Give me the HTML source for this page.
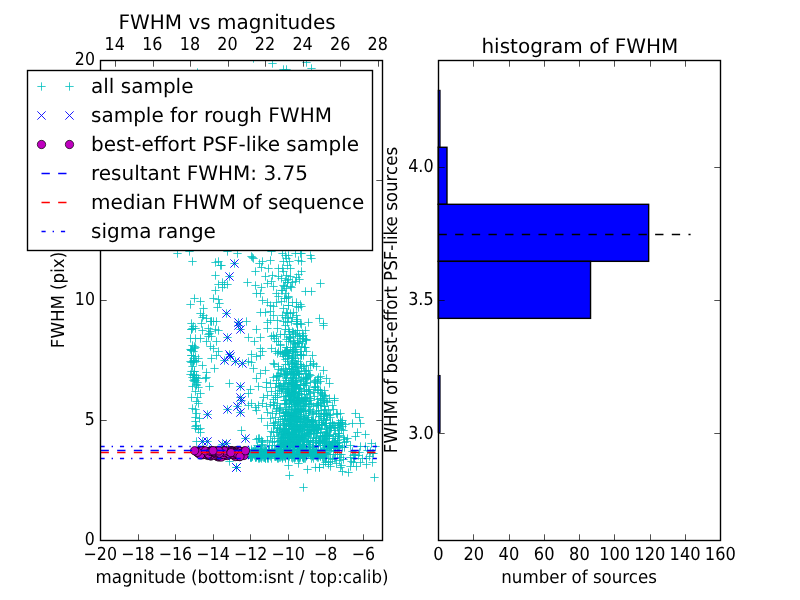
<!DOCTYPE html>
<html><head><meta charset="utf-8"><title>FWHM</title>
<style>html,body{margin:0;padding:0;background:#fff;overflow:hidden}svg{display:block;will-change:transform;opacity:.9999}text{text-rendering:geometricPrecision}text{font-family:"DejaVu Sans","Liberation Sans",sans-serif;fill:#000}</style>
</head><body>
<svg width="800" height="600" viewBox="0 0 800 600">
<rect width="800" height="600" fill="#fff"/>
<clipPath id="c1"><rect x="100.5" y="60.5" width="281" height="480"/></clipPath>
<g clip-path="url(#c1)">
<g fill="none" stroke="#00BFBF" stroke-width="0.8">
<path d="M192.5 257.33v8.33 m-4.17 -4.17h8.33"/>
<path d="M189.5 247.33v8.33 m-4.17 -4.17h8.33"/>
<path d="M227.5 247.33v8.33 m-4.17 -4.17h8.33"/>
<path d="M237.5 249.33v8.33 m-4.17 -4.17h8.33"/>
<path d="M251.5 252.33v8.33 m-4.17 -4.17h8.33"/>
<path d="M253.5 254.33v8.33 m-4.17 -4.17h8.33"/>
<path d="M252.5 253.33v8.33 m-4.17 -4.17h8.33"/>
<path d="M271.5 247.33v8.33 m-4.17 -4.17h8.33"/>
<path d="M215.5 258.33v8.33 m-4.17 -4.17h8.33"/>
<path d="M218.5 257.33v8.33 m-4.17 -4.17h8.33"/>
<path d="M221.5 261.33v8.33 m-4.17 -4.17h8.33"/>
<path d="M220.5 261.33v8.33 m-4.17 -4.17h8.33"/>
<path d="M215.5 271.33v8.33 m-4.17 -4.17h8.33"/>
<path d="M247.5 278.33v8.33 m-4.17 -4.17h8.33"/>
<path d="M218.5 280.33v8.33 m-4.17 -4.17h8.33"/>
<path d="M222.5 278.33v8.33 m-4.17 -4.17h8.33"/>
<path d="M227.5 280.33v8.33 m-4.17 -4.17h8.33"/>
<path d="M222.5 283.33v8.33 m-4.17 -4.17h8.33"/>
<path d="M224.5 280.33v8.33 m-4.17 -4.17h8.33"/>
<path d="M215.5 286.33v8.33 m-4.17 -4.17h8.33"/>
<path d="M255.5 281.33v8.33 m-4.17 -4.17h8.33"/>
<path d="M261.5 283.33v8.33 m-4.17 -4.17h8.33"/>
<path d="M256.5 289.33v8.33 m-4.17 -4.17h8.33"/>
<path d="M260.5 289.33v8.33 m-4.17 -4.17h8.33"/>
<path d="M255.5 267.33v8.33 m-4.17 -4.17h8.33"/>
<path d="M259.5 259.33v8.33 m-4.17 -4.17h8.33"/>
<path d="M262.5 257.33v8.33 m-4.17 -4.17h8.33"/>
<path d="M261.5 263.33v8.33 m-4.17 -4.17h8.33"/>
<path d="M270.5 256.33v8.33 m-4.17 -4.17h8.33"/>
<path d="M268.5 264.33v8.33 m-4.17 -4.17h8.33"/>
<path d="M265.5 272.33v8.33 m-4.17 -4.17h8.33"/>
<path d="M272.5 271.33v8.33 m-4.17 -4.17h8.33"/>
<path d="M278.5 272.33v8.33 m-4.17 -4.17h8.33"/>
<path d="M267.5 279.33v8.33 m-4.17 -4.17h8.33"/>
<path d="M271.5 277.33v8.33 m-4.17 -4.17h8.33"/>
<path d="M273.5 282.33v8.33 m-4.17 -4.17h8.33"/>
<path d="M278.5 264.33v8.33 m-4.17 -4.17h8.33"/>
<path d="M194.5 294.33v8.33 m-4.17 -4.17h8.33"/>
<path d="M200.5 297.33v8.33 m-4.17 -4.17h8.33"/>
<path d="M190.5 300.33v8.33 m-4.17 -4.17h8.33"/>
<path d="M213.5 294.33v8.33 m-4.17 -4.17h8.33"/>
<path d="M218.5 295.33v8.33 m-4.17 -4.17h8.33"/>
<path d="M219.5 299.33v8.33 m-4.17 -4.17h8.33"/>
<path d="M217.5 303.33v8.33 m-4.17 -4.17h8.33"/>
<path d="M203.5 304.33v8.33 m-4.17 -4.17h8.33"/>
<path d="M200.5 309.33v8.33 m-4.17 -4.17h8.33"/>
<path d="M203.5 311.33v8.33 m-4.17 -4.17h8.33"/>
<path d="M202.5 313.33v8.33 m-4.17 -4.17h8.33"/>
<path d="M206.5 314.33v8.33 m-4.17 -4.17h8.33"/>
<path d="M210.5 317.33v8.33 m-4.17 -4.17h8.33"/>
<path d="M213.5 317.33v8.33 m-4.17 -4.17h8.33"/>
<path d="M216.5 317.33v8.33 m-4.17 -4.17h8.33"/>
<path d="M191.5 319.33v8.33 m-4.17 -4.17h8.33"/>
<path d="M201.5 319.33v8.33 m-4.17 -4.17h8.33"/>
<path d="M246.5 317.33v8.33 m-4.17 -4.17h8.33"/>
<path d="M262.5 296.33v8.33 m-4.17 -4.17h8.33"/>
<path d="M267.5 298.33v8.33 m-4.17 -4.17h8.33"/>
<path d="M270.5 301.33v8.33 m-4.17 -4.17h8.33"/>
<path d="M273.5 302.33v8.33 m-4.17 -4.17h8.33"/>
<path d="M276.5 289.33v8.33 m-4.17 -4.17h8.33"/>
<path d="M278.5 292.33v8.33 m-4.17 -4.17h8.33"/>
<path d="M276.5 298.33v8.33 m-4.17 -4.17h8.33"/>
<path d="M260.5 308.33v8.33 m-4.17 -4.17h8.33"/>
<path d="M265.5 308.33v8.33 m-4.17 -4.17h8.33"/>
<path d="M270.5 307.33v8.33 m-4.17 -4.17h8.33"/>
<path d="M273.5 311.33v8.33 m-4.17 -4.17h8.33"/>
<path d="M270.5 316.33v8.33 m-4.17 -4.17h8.33"/>
<path d="M267.5 318.33v8.33 m-4.17 -4.17h8.33"/>
<path d="M277.5 316.33v8.33 m-4.17 -4.17h8.33"/>
<path d="M282.5 249.33v8.33 m-4.17 -4.17h8.33"/>
<path d="M285.5 251.33v8.33 m-4.17 -4.17h8.33"/>
<path d="M288.5 251.33v8.33 m-4.17 -4.17h8.33"/>
<path d="M286.5 254.33v8.33 m-4.17 -4.17h8.33"/>
<path d="M289.5 257.33v8.33 m-4.17 -4.17h8.33"/>
<path d="M283.5 257.33v8.33 m-4.17 -4.17h8.33"/>
<path d="M287.5 261.33v8.33 m-4.17 -4.17h8.33"/>
<path d="M282.5 264.33v8.33 m-4.17 -4.17h8.33"/>
<path d="M283.5 267.33v8.33 m-4.17 -4.17h8.33"/>
<path d="M286.5 271.33v8.33 m-4.17 -4.17h8.33"/>
<path d="M281.5 274.33v8.33 m-4.17 -4.17h8.33"/>
<path d="M285.5 276.33v8.33 m-4.17 -4.17h8.33"/>
<path d="M288.5 275.33v8.33 m-4.17 -4.17h8.33"/>
<path d="M287.5 278.33v8.33 m-4.17 -4.17h8.33"/>
<path d="M283.5 281.33v8.33 m-4.17 -4.17h8.33"/>
<path d="M290.5 282.33v8.33 m-4.17 -4.17h8.33"/>
<path d="M286.5 284.33v8.33 m-4.17 -4.17h8.33"/>
<path d="M282.5 286.33v8.33 m-4.17 -4.17h8.33"/>
<path d="M285.5 289.33v8.33 m-4.17 -4.17h8.33"/>
<path d="M288.5 293.33v8.33 m-4.17 -4.17h8.33"/>
<path d="M286.5 294.33v8.33 m-4.17 -4.17h8.33"/>
<path d="M281.5 297.33v8.33 m-4.17 -4.17h8.33"/>
<path d="M288.5 301.33v8.33 m-4.17 -4.17h8.33"/>
<path d="M283.5 304.33v8.33 m-4.17 -4.17h8.33"/>
<path d="M286.5 308.33v8.33 m-4.17 -4.17h8.33"/>
<path d="M290.5 309.33v8.33 m-4.17 -4.17h8.33"/>
<path d="M282.5 311.33v8.33 m-4.17 -4.17h8.33"/>
<path d="M293.5 308.33v8.33 m-4.17 -4.17h8.33"/>
<path d="M285.5 313.33v8.33 m-4.17 -4.17h8.33"/>
<path d="M288.5 314.33v8.33 m-4.17 -4.17h8.33"/>
<path d="M292.5 313.33v8.33 m-4.17 -4.17h8.33"/>
<path d="M296.5 311.33v8.33 m-4.17 -4.17h8.33"/>
<path d="M283.5 317.33v8.33 m-4.17 -4.17h8.33"/>
<path d="M287.5 318.33v8.33 m-4.17 -4.17h8.33"/>
<path d="M291.5 317.33v8.33 m-4.17 -4.17h8.33"/>
<path d="M296.5 317.33v8.33 m-4.17 -4.17h8.33"/>
<path d="M300.5 319.33v8.33 m-4.17 -4.17h8.33"/>
<path d="M298.5 256.33v8.33 m-4.17 -4.17h8.33"/>
<path d="M301.5 249.33v8.33 m-4.17 -4.17h8.33"/>
<path d="M300.5 249.33v8.33 m-4.17 -4.17h8.33"/>
<path d="M310.5 251.33v8.33 m-4.17 -4.17h8.33"/>
<path d="M311.5 254.33v8.33 m-4.17 -4.17h8.33"/>
<path d="M301.5 267.33v8.33 m-4.17 -4.17h8.33"/>
<path d="M298.5 270.33v8.33 m-4.17 -4.17h8.33"/>
<path d="M299.5 275.33v8.33 m-4.17 -4.17h8.33"/>
<path d="M295.5 277.33v8.33 m-4.17 -4.17h8.33"/>
<path d="M292.5 278.33v8.33 m-4.17 -4.17h8.33"/>
<path d="M296.5 273.33v8.33 m-4.17 -4.17h8.33"/>
<path d="M320.5 279.33v8.33 m-4.17 -4.17h8.33"/>
<path d="M305.5 287.33v8.33 m-4.17 -4.17h8.33"/>
<path d="M311.5 287.33v8.33 m-4.17 -4.17h8.33"/>
<path d="M300.5 300.33v8.33 m-4.17 -4.17h8.33"/>
<path d="M298.5 303.33v8.33 m-4.17 -4.17h8.33"/>
<path d="M291.5 283.33v8.33 m-4.17 -4.17h8.33"/>
<path d="M319.5 314.33v8.33 m-4.17 -4.17h8.33"/>
<path d="M323.5 319.33v8.33 m-4.17 -4.17h8.33"/>
<path d="M192.5 324.33v8.33 m-4.17 -4.17h8.33"/>
<path d="M195.5 324.33v8.33 m-4.17 -4.17h8.33"/>
<path d="M202.5 326.33v8.33 m-4.17 -4.17h8.33"/>
<path d="M208.5 324.33v8.33 m-4.17 -4.17h8.33"/>
<path d="M210.5 327.33v8.33 m-4.17 -4.17h8.33"/>
<path d="M215.5 325.33v8.33 m-4.17 -4.17h8.33"/>
<path d="M218.5 326.33v8.33 m-4.17 -4.17h8.33"/>
<path d="M190.5 334.33v8.33 m-4.17 -4.17h8.33"/>
<path d="M195.5 334.33v8.33 m-4.17 -4.17h8.33"/>
<path d="M200.5 334.33v8.33 m-4.17 -4.17h8.33"/>
<path d="M208.5 332.33v8.33 m-4.17 -4.17h8.33"/>
<path d="M211.5 332.33v8.33 m-4.17 -4.17h8.33"/>
<path d="M206.5 337.33v8.33 m-4.17 -4.17h8.33"/>
<path d="M210.5 342.33v8.33 m-4.17 -4.17h8.33"/>
<path d="M216.5 337.33v8.33 m-4.17 -4.17h8.33"/>
<path d="M213.5 344.33v8.33 m-4.17 -4.17h8.33"/>
<path d="M218.5 347.33v8.33 m-4.17 -4.17h8.33"/>
<path d="M192.5 341.33v8.33 m-4.17 -4.17h8.33"/>
<path d="M190.5 345.33v8.33 m-4.17 -4.17h8.33"/>
<path d="M193.5 347.33v8.33 m-4.17 -4.17h8.33"/>
<path d="M191.5 351.33v8.33 m-4.17 -4.17h8.33"/>
<path d="M195.5 352.33v8.33 m-4.17 -4.17h8.33"/>
<path d="M198.5 354.33v8.33 m-4.17 -4.17h8.33"/>
<path d="M190.5 357.33v8.33 m-4.17 -4.17h8.33"/>
<path d="M193.5 358.33v8.33 m-4.17 -4.17h8.33"/>
<path d="M196.5 357.33v8.33 m-4.17 -4.17h8.33"/>
<path d="M192.5 362.33v8.33 m-4.17 -4.17h8.33"/>
<path d="M202.5 361.33v8.33 m-4.17 -4.17h8.33"/>
<path d="M211.5 354.33v8.33 m-4.17 -4.17h8.33"/>
<path d="M216.5 351.33v8.33 m-4.17 -4.17h8.33"/>
<path d="M214.5 364.33v8.33 m-4.17 -4.17h8.33"/>
<path d="M206.5 368.33v8.33 m-4.17 -4.17h8.33"/>
<path d="M229.5 379.33v8.33 m-4.17 -4.17h8.33"/>
<path d="M192.5 373.33v8.33 m-4.17 -4.17h8.33"/>
<path d="M196.5 371.33v8.33 m-4.17 -4.17h8.33"/>
<path d="M195.5 376.33v8.33 m-4.17 -4.17h8.33"/>
<path d="M198.5 374.33v8.33 m-4.17 -4.17h8.33"/>
<path d="M205.5 374.33v8.33 m-4.17 -4.17h8.33"/>
<path d="M206.5 373.33v8.33 m-4.17 -4.17h8.33"/>
<path d="M192.5 382.33v8.33 m-4.17 -4.17h8.33"/>
<path d="M196.5 381.33v8.33 m-4.17 -4.17h8.33"/>
<path d="M198.5 383.33v8.33 m-4.17 -4.17h8.33"/>
<path d="M209.5 382.33v8.33 m-4.17 -4.17h8.33"/>
<path d="M195.5 387.33v8.33 m-4.17 -4.17h8.33"/>
<path d="M200.5 389.33v8.33 m-4.17 -4.17h8.33"/>
<path d="M197.5 393.33v8.33 m-4.17 -4.17h8.33"/>
<path d="M256.5 325.33v8.33 m-4.17 -4.17h8.33"/>
<path d="M248.5 333.33v8.33 m-4.17 -4.17h8.33"/>
<path d="M260.5 333.33v8.33 m-4.17 -4.17h8.33"/>
<path d="M254.5 337.33v8.33 m-4.17 -4.17h8.33"/>
<path d="M267.5 324.33v8.33 m-4.17 -4.17h8.33"/>
<path d="M271.5 332.33v8.33 m-4.17 -4.17h8.33"/>
<path d="M274.5 334.33v8.33 m-4.17 -4.17h8.33"/>
<path d="M276.5 332.33v8.33 m-4.17 -4.17h8.33"/>
<path d="M273.5 331.33v8.33 m-4.17 -4.17h8.33"/>
<path d="M278.5 337.33v8.33 m-4.17 -4.17h8.33"/>
<path d="M260.5 344.33v8.33 m-4.17 -4.17h8.33"/>
<path d="M271.5 344.33v8.33 m-4.17 -4.17h8.33"/>
<path d="M262.5 347.33v8.33 m-4.17 -4.17h8.33"/>
<path d="M251.5 350.33v8.33 m-4.17 -4.17h8.33"/>
<path d="M260.5 351.33v8.33 m-4.17 -4.17h8.33"/>
<path d="M256.5 352.33v8.33 m-4.17 -4.17h8.33"/>
<path d="M278.5 347.33v8.33 m-4.17 -4.17h8.33"/>
<path d="M248.5 357.33v8.33 m-4.17 -4.17h8.33"/>
<path d="M251.5 358.33v8.33 m-4.17 -4.17h8.33"/>
<path d="M253.5 364.33v8.33 m-4.17 -4.17h8.33"/>
<path d="M265.5 366.33v8.33 m-4.17 -4.17h8.33"/>
<path d="M273.5 359.33v8.33 m-4.17 -4.17h8.33"/>
<path d="M278.5 362.33v8.33 m-4.17 -4.17h8.33"/>
<path d="M260.5 369.33v8.33 m-4.17 -4.17h8.33"/>
<path d="M256.5 374.33v8.33 m-4.17 -4.17h8.33"/>
<path d="M266.5 378.33v8.33 m-4.17 -4.17h8.33"/>
<path d="M258.5 382.33v8.33 m-4.17 -4.17h8.33"/>
<path d="M250.5 385.33v8.33 m-4.17 -4.17h8.33"/>
<path d="M248.5 389.33v8.33 m-4.17 -4.17h8.33"/>
<path d="M266.5 383.33v8.33 m-4.17 -4.17h8.33"/>
<path d="M270.5 379.33v8.33 m-4.17 -4.17h8.33"/>
<path d="M273.5 373.33v8.33 m-4.17 -4.17h8.33"/>
<path d="M277.5 371.33v8.33 m-4.17 -4.17h8.33"/>
<path d="M276.5 376.33v8.33 m-4.17 -4.17h8.33"/>
<path d="M278.5 379.33v8.33 m-4.17 -4.17h8.33"/>
<path d="M275.5 383.33v8.33 m-4.17 -4.17h8.33"/>
<path d="M271.5 387.33v8.33 m-4.17 -4.17h8.33"/>
<path d="M267.5 391.33v8.33 m-4.17 -4.17h8.33"/>
<path d="M277.5 389.33v8.33 m-4.17 -4.17h8.33"/>
<path d="M263.5 393.33v8.33 m-4.17 -4.17h8.33"/>
<path d="M275.5 393.33v8.33 m-4.17 -4.17h8.33"/>
<path d="M323.5 321.33v8.33 m-4.17 -4.17h8.33"/>
<path d="M306.5 335.33v8.33 m-4.17 -4.17h8.33"/>
<path d="M312.5 351.33v8.33 m-4.17 -4.17h8.33"/>
<path d="M310.5 361.33v8.33 m-4.17 -4.17h8.33"/>
<path d="M313.5 360.33v8.33 m-4.17 -4.17h8.33"/>
<path d="M316.5 362.33v8.33 m-4.17 -4.17h8.33"/>
<path d="M323.5 366.33v8.33 m-4.17 -4.17h8.33"/>
<path d="M326.5 374.33v8.33 m-4.17 -4.17h8.33"/>
<path d="M329.5 379.33v8.33 m-4.17 -4.17h8.33"/>
<path d="M329.5 394.33v8.33 m-4.17 -4.17h8.33"/>
<path d="M334.5 394.33v8.33 m-4.17 -4.17h8.33"/>
<path d="M317.5 386.33v8.33 m-4.17 -4.17h8.33"/>
<path d="M320.5 388.33v8.33 m-4.17 -4.17h8.33"/>
<path d="M315.5 376.33v8.33 m-4.17 -4.17h8.33"/>
<path d="M310.5 371.33v8.33 m-4.17 -4.17h8.33"/>
<path d="M306.5 347.33v8.33 m-4.17 -4.17h8.33"/>
<path d="M196.5 397.33v8.33 m-4.17 -4.17h8.33"/>
<path d="M198.5 399.33v8.33 m-4.17 -4.17h8.33"/>
<path d="M192.5 404.33v8.33 m-4.17 -4.17h8.33"/>
<path d="M195.5 405.33v8.33 m-4.17 -4.17h8.33"/>
<path d="M199.5 414.33v8.33 m-4.17 -4.17h8.33"/>
<path d="M195.5 417.33v8.33 m-4.17 -4.17h8.33"/>
<path d="M196.5 421.33v8.33 m-4.17 -4.17h8.33"/>
<path d="M198.5 425.33v8.33 m-4.17 -4.17h8.33"/>
<path d="M200.5 428.33v8.33 m-4.17 -4.17h8.33"/>
<path d="M196.5 437.33v8.33 m-4.17 -4.17h8.33"/>
<path d="M241.5 426.33v8.33 m-4.17 -4.17h8.33"/>
<path d="M229.5 457.33v8.33 m-4.17 -4.17h8.33"/>
<path d="M248.5 401.33v8.33 m-4.17 -4.17h8.33"/>
<path d="M251.5 399.33v8.33 m-4.17 -4.17h8.33"/>
<path d="M255.5 403.33v8.33 m-4.17 -4.17h8.33"/>
<path d="M258.5 401.33v8.33 m-4.17 -4.17h8.33"/>
<path d="M262.5 399.33v8.33 m-4.17 -4.17h8.33"/>
<path d="M266.5 402.33v8.33 m-4.17 -4.17h8.33"/>
<path d="M270.5 400.33v8.33 m-4.17 -4.17h8.33"/>
<path d="M273.5 401.33v8.33 m-4.17 -4.17h8.33"/>
<path d="M277.5 399.33v8.33 m-4.17 -4.17h8.33"/>
<path d="M256.5 406.33v8.33 m-4.17 -4.17h8.33"/>
<path d="M267.5 408.33v8.33 m-4.17 -4.17h8.33"/>
<path d="M272.5 409.33v8.33 m-4.17 -4.17h8.33"/>
<path d="M276.5 407.33v8.33 m-4.17 -4.17h8.33"/>
<path d="M261.5 414.33v8.33 m-4.17 -4.17h8.33"/>
<path d="M270.5 414.33v8.33 m-4.17 -4.17h8.33"/>
<path d="M275.5 413.33v8.33 m-4.17 -4.17h8.33"/>
<path d="M278.5 417.33v8.33 m-4.17 -4.17h8.33"/>
<path d="M267.5 421.33v8.33 m-4.17 -4.17h8.33"/>
<path d="M273.5 421.33v8.33 m-4.17 -4.17h8.33"/>
<path d="M277.5 423.33v8.33 m-4.17 -4.17h8.33"/>
<path d="M271.5 427.33v8.33 m-4.17 -4.17h8.33"/>
<path d="M276.5 428.33v8.33 m-4.17 -4.17h8.33"/>
<path d="M270.5 432.33v8.33 m-4.17 -4.17h8.33"/>
<path d="M278.5 432.33v8.33 m-4.17 -4.17h8.33"/>
<path d="M262.5 437.33v8.33 m-4.17 -4.17h8.33"/>
<path d="M267.5 436.33v8.33 m-4.17 -4.17h8.33"/>
<path d="M272.5 437.33v8.33 m-4.17 -4.17h8.33"/>
<path d="M277.5 437.33v8.33 m-4.17 -4.17h8.33"/>
<path d="M257.5 441.33v8.33 m-4.17 -4.17h8.33"/>
<path d="M261.5 441.33v8.33 m-4.17 -4.17h8.33"/>
<path d="M326.5 397.33v8.33 m-4.17 -4.17h8.33"/>
<path d="M334.5 396.33v8.33 m-4.17 -4.17h8.33"/>
<path d="M355.5 409.33v8.33 m-4.17 -4.17h8.33"/>
<path d="M359.5 413.33v8.33 m-4.17 -4.17h8.33"/>
<path d="M352.5 419.33v8.33 m-4.17 -4.17h8.33"/>
<path d="M360.5 419.33v8.33 m-4.17 -4.17h8.33"/>
<path d="M340.5 409.33v8.33 m-4.17 -4.17h8.33"/>
<path d="M343.5 426.33v8.33 m-4.17 -4.17h8.33"/>
<path d="M357.5 428.33v8.33 m-4.17 -4.17h8.33"/>
<path d="M355.5 432.33v8.33 m-4.17 -4.17h8.33"/>
<path d="M365.5 430.33v8.33 m-4.17 -4.17h8.33"/>
<path d="M347.5 434.33v8.33 m-4.17 -4.17h8.33"/>
<path d="M350.5 441.33v8.33 m-4.17 -4.17h8.33"/>
<path d="M360.5 442.33v8.33 m-4.17 -4.17h8.33"/>
<path d="M371.5 439.33v8.33 m-4.17 -4.17h8.33"/>
<path d="M375.5 442.33v8.33 m-4.17 -4.17h8.33"/>
<path d="M367.5 446.33v8.33 m-4.17 -4.17h8.33"/>
<path d="M372.5 449.33v8.33 m-4.17 -4.17h8.33"/>
<path d="M355.5 451.33v8.33 m-4.17 -4.17h8.33"/>
<path d="M288.5 461.33v8.33 m-4.17 -4.17h8.33"/>
<path d="M289.5 471.33v8.33 m-4.17 -4.17h8.33"/>
<path d="M303.5 483.33v8.33 m-4.17 -4.17h8.33"/>
<path d="M374.5 473.33v8.33 m-4.17 -4.17h8.33"/>
<path d="M307.5 465.33v8.33 m-4.17 -4.17h8.33"/>
<path d="M315.5 463.33v8.33 m-4.17 -4.17h8.33"/>
<path d="M319.5 463.33v8.33 m-4.17 -4.17h8.33"/>
<path d="M330.5 462.33v8.33 m-4.17 -4.17h8.33"/>
<path d="M342.5 467.33v8.33 m-4.17 -4.17h8.33"/>
<path d="M348.5 468.33v8.33 m-4.17 -4.17h8.33"/>
<path d="M340.5 463.33v8.33 m-4.17 -4.17h8.33"/>
<path d="M350.5 462.33v8.33 m-4.17 -4.17h8.33"/>
<path d="M356.5 462.33v8.33 m-4.17 -4.17h8.33"/>
<path d="M366.5 460.33v8.33 m-4.17 -4.17h8.33"/>
<path d="M372.5 458.33v8.33 m-4.17 -4.17h8.33"/>
<path d="M360.5 458.33v8.33 m-4.17 -4.17h8.33"/>
<path d="M336.5 459.33v8.33 m-4.17 -4.17h8.33"/>
<path d="M323.5 460.33v8.33 m-4.17 -4.17h8.33"/>
<path d="M298.5 459.33v8.33 m-4.17 -4.17h8.33"/>
<path d="M177.5 249.33v8.33 m-4.17 -4.17h8.33"/>
<path d="M197.5 68.33v8.33 m-4.17 -4.17h8.33"/>
<path d="M253.5 54.33v8.33 m-4.17 -4.17h8.33"/>
<path d="M272.5 59.33v8.33 m-4.17 -4.17h8.33"/>
<path d="M286.5 65.33v8.33 m-4.17 -4.17h8.33"/>
<path d="M283.5 65.33v8.33 m-4.17 -4.17h8.33"/>
<path d="M306.5 58.33v8.33 m-4.17 -4.17h8.33"/>
<path d="M311.5 64.33v8.33 m-4.17 -4.17h8.33"/>
<path d="M234.5 259.33v8.33 m-4.17 -4.17h8.33"/>
<path d="M229.5 272.33v8.33 m-4.17 -4.17h8.33"/>
<path d="M226.5 309.33v8.33 m-4.17 -4.17h8.33"/>
<path d="M238.5 318.33v8.33 m-4.17 -4.17h8.33"/>
<path d="M238.5 321.33v8.33 m-4.17 -4.17h8.33"/>
<path d="M240.5 325.33v8.33 m-4.17 -4.17h8.33"/>
<path d="M227.5 333.33v8.33 m-4.17 -4.17h8.33"/>
<path d="M229.5 350.33v8.33 m-4.17 -4.17h8.33"/>
<path d="M230.5 352.33v8.33 m-4.17 -4.17h8.33"/>
<path d="M224.5 356.33v8.33 m-4.17 -4.17h8.33"/>
<path d="M235.5 357.33v8.33 m-4.17 -4.17h8.33"/>
<path d="M242.5 359.33v8.33 m-4.17 -4.17h8.33"/>
<path d="M240.5 382.33v8.33 m-4.17 -4.17h8.33"/>
<path d="M240.5 393.33v8.33 m-4.17 -4.17h8.33"/>
<path d="M207.5 410.33v8.33 m-4.17 -4.17h8.33"/>
<path d="M227.5 405.33v8.33 m-4.17 -4.17h8.33"/>
<path d="M237.5 402.33v8.33 m-4.17 -4.17h8.33"/>
<path d="M240.5 408.33v8.33 m-4.17 -4.17h8.33"/>
<path d="M241.5 396.33v8.33 m-4.17 -4.17h8.33"/>
<path d="M245.5 434.33v8.33 m-4.17 -4.17h8.33"/>
<path d="M202.5 437.33v8.33 m-4.17 -4.17h8.33"/>
<path d="M207.5 437.33v8.33 m-4.17 -4.17h8.33"/>
<path d="M226.5 439.33v8.33 m-4.17 -4.17h8.33"/>
<path d="M222.5 440.33v8.33 m-4.17 -4.17h8.33"/>
<path d="M236.5 463.33v8.33 m-4.17 -4.17h8.33"/>
<path d="M236.5 463.33v8.33 m-4.17 -4.17h8.33"/>
<path d="M274.5 452.33v8.33 m-4.17 -4.17h8.33"/>
<path d="M255.5 453.33v8.33 m-4.17 -4.17h8.33"/>
<path d="M290.5 449.33v8.33 m-4.17 -4.17h8.33"/>
<path d="M288.5 450.33v8.33 m-4.17 -4.17h8.33"/>
<path d="M252.5 449.33v8.33 m-4.17 -4.17h8.33"/>
<path d="M256.5 450.33v8.33 m-4.17 -4.17h8.33"/>
<path d="M282.5 450.33v8.33 m-4.17 -4.17h8.33"/>
<path d="M266.5 448.33v8.33 m-4.17 -4.17h8.33"/>
<path d="M297.5 453.33v8.33 m-4.17 -4.17h8.33"/>
<path d="M280.5 448.33v8.33 m-4.17 -4.17h8.33"/>
<path d="M324.5 454.33v8.33 m-4.17 -4.17h8.33"/>
<path d="M271.5 451.33v8.33 m-4.17 -4.17h8.33"/>
<path d="M260.5 451.33v8.33 m-4.17 -4.17h8.33"/>
<path d="M312.5 451.33v8.33 m-4.17 -4.17h8.33"/>
<path d="M263.5 446.33v8.33 m-4.17 -4.17h8.33"/>
<path d="M278.5 448.33v8.33 m-4.17 -4.17h8.33"/>
<path d="M291.5 450.33v8.33 m-4.17 -4.17h8.33"/>
<path d="M265.5 450.33v8.33 m-4.17 -4.17h8.33"/>
<path d="M301.5 447.33v8.33 m-4.17 -4.17h8.33"/>
<path d="M294.5 450.33v8.33 m-4.17 -4.17h8.33"/>
<path d="M284.5 448.33v8.33 m-4.17 -4.17h8.33"/>
<path d="M303.5 454.33v8.33 m-4.17 -4.17h8.33"/>
<path d="M268.5 447.33v8.33 m-4.17 -4.17h8.33"/>
<path d="M316.5 448.33v8.33 m-4.17 -4.17h8.33"/>
<path d="M305.5 448.33v8.33 m-4.17 -4.17h8.33"/>
<path d="M258.5 454.33v8.33 m-4.17 -4.17h8.33"/>
<path d="M281.5 450.33v8.33 m-4.17 -4.17h8.33"/>
<path d="M287.5 448.33v8.33 m-4.17 -4.17h8.33"/>
<path d="M252.5 447.33v8.33 m-4.17 -4.17h8.33"/>
<path d="M293.5 446.33v8.33 m-4.17 -4.17h8.33"/>
<path d="M316.5 448.33v8.33 m-4.17 -4.17h8.33"/>
<path d="M295.5 453.33v8.33 m-4.17 -4.17h8.33"/>
<path d="M294.5 445.33v8.33 m-4.17 -4.17h8.33"/>
<path d="M322.5 451.33v8.33 m-4.17 -4.17h8.33"/>
<path d="M286.5 449.33v8.33 m-4.17 -4.17h8.33"/>
<path d="M303.5 449.33v8.33 m-4.17 -4.17h8.33"/>
<path d="M299.5 454.33v8.33 m-4.17 -4.17h8.33"/>
<path d="M271.5 449.33v8.33 m-4.17 -4.17h8.33"/>
<path d="M279.5 449.33v8.33 m-4.17 -4.17h8.33"/>
<path d="M285.5 449.33v8.33 m-4.17 -4.17h8.33"/>
<path d="M262.5 450.33v8.33 m-4.17 -4.17h8.33"/>
<path d="M308.5 450.33v8.33 m-4.17 -4.17h8.33"/>
<path d="M259.5 450.33v8.33 m-4.17 -4.17h8.33"/>
<path d="M316.5 452.33v8.33 m-4.17 -4.17h8.33"/>
<path d="M255.5 446.33v8.33 m-4.17 -4.17h8.33"/>
<path d="M317.5 451.33v8.33 m-4.17 -4.17h8.33"/>
<path d="M312.5 451.33v8.33 m-4.17 -4.17h8.33"/>
<path d="M281.5 448.33v8.33 m-4.17 -4.17h8.33"/>
<path d="M277.5 454.33v8.33 m-4.17 -4.17h8.33"/>
<path d="M261.5 445.33v8.33 m-4.17 -4.17h8.33"/>
<path d="M263.5 450.33v8.33 m-4.17 -4.17h8.33"/>
<path d="M286.5 451.33v8.33 m-4.17 -4.17h8.33"/>
<path d="M294.5 449.33v8.33 m-4.17 -4.17h8.33"/>
<path d="M281.5 450.33v8.33 m-4.17 -4.17h8.33"/>
<path d="M277.5 445.33v8.33 m-4.17 -4.17h8.33"/>
<path d="M302.5 447.33v8.33 m-4.17 -4.17h8.33"/>
<path d="M289.5 447.33v8.33 m-4.17 -4.17h8.33"/>
<path d="M253.5 447.33v8.33 m-4.17 -4.17h8.33"/>
<path d="M318.5 450.33v8.33 m-4.17 -4.17h8.33"/>
<path d="M310.5 445.33v8.33 m-4.17 -4.17h8.33"/>
<path d="M279.5 449.33v8.33 m-4.17 -4.17h8.33"/>
<path d="M298.5 450.33v8.33 m-4.17 -4.17h8.33"/>
<path d="M254.5 451.33v8.33 m-4.17 -4.17h8.33"/>
<path d="M261.5 450.33v8.33 m-4.17 -4.17h8.33"/>
<path d="M275.5 450.33v8.33 m-4.17 -4.17h8.33"/>
<path d="M261.5 450.33v8.33 m-4.17 -4.17h8.33"/>
<path d="M257.5 449.33v8.33 m-4.17 -4.17h8.33"/>
<path d="M316.5 450.33v8.33 m-4.17 -4.17h8.33"/>
<path d="M296.5 451.33v8.33 m-4.17 -4.17h8.33"/>
<path d="M276.5 451.33v8.33 m-4.17 -4.17h8.33"/>
<path d="M277.5 453.33v8.33 m-4.17 -4.17h8.33"/>
<path d="M325.5 453.33v8.33 m-4.17 -4.17h8.33"/>
<path d="M285.5 448.33v8.33 m-4.17 -4.17h8.33"/>
<path d="M257.5 450.33v8.33 m-4.17 -4.17h8.33"/>
<path d="M275.5 449.33v8.33 m-4.17 -4.17h8.33"/>
<path d="M261.5 454.33v8.33 m-4.17 -4.17h8.33"/>
<path d="M251.5 453.33v8.33 m-4.17 -4.17h8.33"/>
<path d="M260.5 449.33v8.33 m-4.17 -4.17h8.33"/>
<path d="M291.5 453.33v8.33 m-4.17 -4.17h8.33"/>
<path d="M324.5 450.33v8.33 m-4.17 -4.17h8.33"/>
<path d="M315.5 449.33v8.33 m-4.17 -4.17h8.33"/>
<path d="M277.5 448.33v8.33 m-4.17 -4.17h8.33"/>
<path d="M262.5 450.33v8.33 m-4.17 -4.17h8.33"/>
<path d="M309.5 446.33v8.33 m-4.17 -4.17h8.33"/>
<path d="M274.5 450.33v8.33 m-4.17 -4.17h8.33"/>
<path d="M325.5 454.33v8.33 m-4.17 -4.17h8.33"/>
<path d="M315.5 451.33v8.33 m-4.17 -4.17h8.33"/>
<path d="M306.5 445.33v8.33 m-4.17 -4.17h8.33"/>
<path d="M266.5 447.33v8.33 m-4.17 -4.17h8.33"/>
<path d="M251.5 449.33v8.33 m-4.17 -4.17h8.33"/>
<path d="M251.5 449.33v8.33 m-4.17 -4.17h8.33"/>
<path d="M302.5 451.33v8.33 m-4.17 -4.17h8.33"/>
<path d="M323.5 445.33v8.33 m-4.17 -4.17h8.33"/>
<path d="M325.5 451.33v8.33 m-4.17 -4.17h8.33"/>
<path d="M323.5 448.33v8.33 m-4.17 -4.17h8.33"/>
<path d="M266.5 451.33v8.33 m-4.17 -4.17h8.33"/>
<path d="M264.5 451.33v8.33 m-4.17 -4.17h8.33"/>
<path d="M318.5 453.33v8.33 m-4.17 -4.17h8.33"/>
<path d="M314.5 446.33v8.33 m-4.17 -4.17h8.33"/>
<path d="M311.5 450.33v8.33 m-4.17 -4.17h8.33"/>
<path d="M256.5 446.33v8.33 m-4.17 -4.17h8.33"/>
<path d="M309.5 445.33v8.33 m-4.17 -4.17h8.33"/>
<path d="M307.5 448.33v8.33 m-4.17 -4.17h8.33"/>
<path d="M310.5 450.33v8.33 m-4.17 -4.17h8.33"/>
<path d="M275.5 452.33v8.33 m-4.17 -4.17h8.33"/>
<path d="M279.5 445.33v8.33 m-4.17 -4.17h8.33"/>
<path d="M280.5 453.33v8.33 m-4.17 -4.17h8.33"/>
<path d="M262.5 448.33v8.33 m-4.17 -4.17h8.33"/>
<path d="M259.5 453.33v8.33 m-4.17 -4.17h8.33"/>
<path d="M311.5 454.33v8.33 m-4.17 -4.17h8.33"/>
<path d="M260.5 453.33v8.33 m-4.17 -4.17h8.33"/>
<path d="M300.5 445.33v8.33 m-4.17 -4.17h8.33"/>
<path d="M276.5 448.33v8.33 m-4.17 -4.17h8.33"/>
<path d="M250.5 449.33v8.33 m-4.17 -4.17h8.33"/>
<path d="M324.5 448.33v8.33 m-4.17 -4.17h8.33"/>
<path d="M321.5 447.33v8.33 m-4.17 -4.17h8.33"/>
<path d="M282.5 453.33v8.33 m-4.17 -4.17h8.33"/>
<path d="M265.5 446.33v8.33 m-4.17 -4.17h8.33"/>
<path d="M268.5 449.33v8.33 m-4.17 -4.17h8.33"/>
<path d="M294.5 451.33v8.33 m-4.17 -4.17h8.33"/>
<path d="M269.5 448.33v8.33 m-4.17 -4.17h8.33"/>
<path d="M319.5 450.33v8.33 m-4.17 -4.17h8.33"/>
<path d="M276.5 446.33v8.33 m-4.17 -4.17h8.33"/>
<path d="M319.5 450.33v8.33 m-4.17 -4.17h8.33"/>
<path d="M281.5 452.33v8.33 m-4.17 -4.17h8.33"/>
<path d="M290.5 448.33v8.33 m-4.17 -4.17h8.33"/>
<path d="M289.5 452.33v8.33 m-4.17 -4.17h8.33"/>
<path d="M263.5 450.33v8.33 m-4.17 -4.17h8.33"/>
<path d="M249.5 450.33v8.33 m-4.17 -4.17h8.33"/>
<path d="M285.5 448.33v8.33 m-4.17 -4.17h8.33"/>
<path d="M305.5 447.33v8.33 m-4.17 -4.17h8.33"/>
<path d="M289.5 449.33v8.33 m-4.17 -4.17h8.33"/>
<path d="M292.5 450.33v8.33 m-4.17 -4.17h8.33"/>
<path d="M292.5 448.33v8.33 m-4.17 -4.17h8.33"/>
<path d="M268.5 449.33v8.33 m-4.17 -4.17h8.33"/>
<path d="M288.5 454.33v8.33 m-4.17 -4.17h8.33"/>
<path d="M292.5 450.33v8.33 m-4.17 -4.17h8.33"/>
<path d="M283.5 445.33v8.33 m-4.17 -4.17h8.33"/>
<path d="M296.5 446.33v8.33 m-4.17 -4.17h8.33"/>
<path d="M302.5 449.33v8.33 m-4.17 -4.17h8.33"/>
<path d="M284.5 447.33v8.33 m-4.17 -4.17h8.33"/>
<path d="M321.5 449.33v8.33 m-4.17 -4.17h8.33"/>
<path d="M303.5 454.33v8.33 m-4.17 -4.17h8.33"/>
<path d="M269.5 445.33v8.33 m-4.17 -4.17h8.33"/>
<path d="M292.5 454.33v8.33 m-4.17 -4.17h8.33"/>
<path d="M260.5 448.33v8.33 m-4.17 -4.17h8.33"/>
<path d="M258.5 449.33v8.33 m-4.17 -4.17h8.33"/>
<path d="M268.5 450.33v8.33 m-4.17 -4.17h8.33"/>
<path d="M255.5 447.33v8.33 m-4.17 -4.17h8.33"/>
<path d="M318.5 446.33v8.33 m-4.17 -4.17h8.33"/>
<path d="M261.5 449.33v8.33 m-4.17 -4.17h8.33"/>
<path d="M260.5 446.33v8.33 m-4.17 -4.17h8.33"/>
<path d="M317.5 451.33v8.33 m-4.17 -4.17h8.33"/>
<path d="M322.5 449.33v8.33 m-4.17 -4.17h8.33"/>
<path d="M280.5 445.33v8.33 m-4.17 -4.17h8.33"/>
<path d="M313.5 450.33v8.33 m-4.17 -4.17h8.33"/>
<path d="M261.5 447.33v8.33 m-4.17 -4.17h8.33"/>
<path d="M275.5 451.33v8.33 m-4.17 -4.17h8.33"/>
<path d="M264.5 448.33v8.33 m-4.17 -4.17h8.33"/>
<path d="M251.5 453.33v8.33 m-4.17 -4.17h8.33"/>
<path d="M292.5 449.33v8.33 m-4.17 -4.17h8.33"/>
<path d="M275.5 450.33v8.33 m-4.17 -4.17h8.33"/>
<path d="M297.5 449.33v8.33 m-4.17 -4.17h8.33"/>
<path d="M325.5 449.33v8.33 m-4.17 -4.17h8.33"/>
<path d="M310.5 451.33v8.33 m-4.17 -4.17h8.33"/>
<path d="M269.5 449.33v8.33 m-4.17 -4.17h8.33"/>
<path d="M252.5 450.33v8.33 m-4.17 -4.17h8.33"/>
<path d="M259.5 447.33v8.33 m-4.17 -4.17h8.33"/>
<path d="M282.5 454.33v8.33 m-4.17 -4.17h8.33"/>
<path d="M269.5 447.33v8.33 m-4.17 -4.17h8.33"/>
<path d="M261.5 452.33v8.33 m-4.17 -4.17h8.33"/>
<path d="M303.5 448.33v8.33 m-4.17 -4.17h8.33"/>
<path d="M256.5 453.33v8.33 m-4.17 -4.17h8.33"/>
<path d="M282.5 451.33v8.33 m-4.17 -4.17h8.33"/>
<path d="M255.5 453.33v8.33 m-4.17 -4.17h8.33"/>
<path d="M311.5 448.33v8.33 m-4.17 -4.17h8.33"/>
<path d="M255.5 450.33v8.33 m-4.17 -4.17h8.33"/>
<path d="M315.5 449.33v8.33 m-4.17 -4.17h8.33"/>
<path d="M284.5 448.33v8.33 m-4.17 -4.17h8.33"/>
<path d="M320.5 452.33v8.33 m-4.17 -4.17h8.33"/>
<path d="M270.5 452.33v8.33 m-4.17 -4.17h8.33"/>
<path d="M267.5 452.33v8.33 m-4.17 -4.17h8.33"/>
<path d="M257.5 450.33v8.33 m-4.17 -4.17h8.33"/>
<path d="M265.5 450.33v8.33 m-4.17 -4.17h8.33"/>
<path d="M273.5 448.33v8.33 m-4.17 -4.17h8.33"/>
<path d="M271.5 454.33v8.33 m-4.17 -4.17h8.33"/>
<path d="M288.5 451.33v8.33 m-4.17 -4.17h8.33"/>
<path d="M250.5 452.33v8.33 m-4.17 -4.17h8.33"/>
<path d="M268.5 454.33v8.33 m-4.17 -4.17h8.33"/>
<path d="M291.5 450.33v8.33 m-4.17 -4.17h8.33"/>
<path d="M264.5 445.33v8.33 m-4.17 -4.17h8.33"/>
<path d="M257.5 450.33v8.33 m-4.17 -4.17h8.33"/>
<path d="M312.5 447.33v8.33 m-4.17 -4.17h8.33"/>
<path d="M313.5 451.33v8.33 m-4.17 -4.17h8.33"/>
<path d="M279.5 446.33v8.33 m-4.17 -4.17h8.33"/>
<path d="M325.5 449.33v8.33 m-4.17 -4.17h8.33"/>
<path d="M275.5 452.33v8.33 m-4.17 -4.17h8.33"/>
<path d="M298.5 446.33v8.33 m-4.17 -4.17h8.33"/>
<path d="M280.5 449.33v8.33 m-4.17 -4.17h8.33"/>
<path d="M259.5 450.33v8.33 m-4.17 -4.17h8.33"/>
<path d="M254.5 449.33v8.33 m-4.17 -4.17h8.33"/>
<path d="M262.5 448.33v8.33 m-4.17 -4.17h8.33"/>
<path d="M256.5 452.33v8.33 m-4.17 -4.17h8.33"/>
<path d="M301.5 445.33v8.33 m-4.17 -4.17h8.33"/>
<path d="M271.5 450.33v8.33 m-4.17 -4.17h8.33"/>
<path d="M284.5 452.33v8.33 m-4.17 -4.17h8.33"/>
<path d="M261.5 448.33v8.33 m-4.17 -4.17h8.33"/>
<path d="M323.5 450.33v8.33 m-4.17 -4.17h8.33"/>
<path d="M324.5 448.33v8.33 m-4.17 -4.17h8.33"/>
<path d="M323.5 449.33v8.33 m-4.17 -4.17h8.33"/>
<path d="M273.5 449.33v8.33 m-4.17 -4.17h8.33"/>
<path d="M278.5 450.33v8.33 m-4.17 -4.17h8.33"/>
<path d="M286.5 448.33v8.33 m-4.17 -4.17h8.33"/>
<path d="M288.5 449.33v8.33 m-4.17 -4.17h8.33"/>
<path d="M249.5 449.33v8.33 m-4.17 -4.17h8.33"/>
<path d="M280.5 451.33v8.33 m-4.17 -4.17h8.33"/>
<path d="M252.5 452.33v8.33 m-4.17 -4.17h8.33"/>
<path d="M267.5 450.33v8.33 m-4.17 -4.17h8.33"/>
<path d="M294.5 445.33v8.33 m-4.17 -4.17h8.33"/>
<path d="M300.5 449.33v8.33 m-4.17 -4.17h8.33"/>
<path d="M304.5 451.33v8.33 m-4.17 -4.17h8.33"/>
<path d="M274.5 448.33v8.33 m-4.17 -4.17h8.33"/>
<path d="M325.5 452.33v8.33 m-4.17 -4.17h8.33"/>
<path d="M299.5 453.33v8.33 m-4.17 -4.17h8.33"/>
<path d="M252.5 452.33v8.33 m-4.17 -4.17h8.33"/>
<path d="M297.5 445.33v8.33 m-4.17 -4.17h8.33"/>
<path d="M306.5 450.33v8.33 m-4.17 -4.17h8.33"/>
<path d="M289.5 448.33v8.33 m-4.17 -4.17h8.33"/>
<path d="M288.5 452.33v8.33 m-4.17 -4.17h8.33"/>
<path d="M313.5 445.33v8.33 m-4.17 -4.17h8.33"/>
<path d="M294.5 453.33v8.33 m-4.17 -4.17h8.33"/>
<path d="M302.5 447.33v8.33 m-4.17 -4.17h8.33"/>
<path d="M267.5 451.33v8.33 m-4.17 -4.17h8.33"/>
<path d="M277.5 450.33v8.33 m-4.17 -4.17h8.33"/>
<path d="M257.5 451.33v8.33 m-4.17 -4.17h8.33"/>
<path d="M297.5 447.33v8.33 m-4.17 -4.17h8.33"/>
<path d="M297.5 448.33v8.33 m-4.17 -4.17h8.33"/>
<path d="M249.5 447.33v8.33 m-4.17 -4.17h8.33"/>
<path d="M310.5 449.33v8.33 m-4.17 -4.17h8.33"/>
<path d="M290.5 446.33v8.33 m-4.17 -4.17h8.33"/>
<path d="M300.5 453.33v8.33 m-4.17 -4.17h8.33"/>
<path d="M268.5 451.33v8.33 m-4.17 -4.17h8.33"/>
<path d="M255.5 449.33v8.33 m-4.17 -4.17h8.33"/>
<path d="M265.5 454.33v8.33 m-4.17 -4.17h8.33"/>
<path d="M306.5 452.33v8.33 m-4.17 -4.17h8.33"/>
<path d="M278.5 449.33v8.33 m-4.17 -4.17h8.33"/>
<path d="M286.5 448.33v8.33 m-4.17 -4.17h8.33"/>
<path d="M297.5 445.33v8.33 m-4.17 -4.17h8.33"/>
<path d="M298.5 451.33v8.33 m-4.17 -4.17h8.33"/>
<path d="M269.5 450.33v8.33 m-4.17 -4.17h8.33"/>
<path d="M306.5 448.33v8.33 m-4.17 -4.17h8.33"/>
<path d="M250.5 453.33v8.33 m-4.17 -4.17h8.33"/>
<path d="M254.5 449.33v8.33 m-4.17 -4.17h8.33"/>
<path d="M302.5 453.33v8.33 m-4.17 -4.17h8.33"/>
<path d="M301.5 449.33v8.33 m-4.17 -4.17h8.33"/>
<path d="M285.5 453.33v8.33 m-4.17 -4.17h8.33"/>
<path d="M285.5 454.33v8.33 m-4.17 -4.17h8.33"/>
<path d="M264.5 453.33v8.33 m-4.17 -4.17h8.33"/>
<path d="M324.5 450.33v8.33 m-4.17 -4.17h8.33"/>
<path d="M284.5 449.33v8.33 m-4.17 -4.17h8.33"/>
<path d="M312.5 452.33v8.33 m-4.17 -4.17h8.33"/>
<path d="M270.5 449.33v8.33 m-4.17 -4.17h8.33"/>
<path d="M265.5 451.33v8.33 m-4.17 -4.17h8.33"/>
<path d="M294.5 449.33v8.33 m-4.17 -4.17h8.33"/>
<path d="M260.5 445.33v8.33 m-4.17 -4.17h8.33"/>
<path d="M259.5 449.33v8.33 m-4.17 -4.17h8.33"/>
<path d="M312.5 445.33v8.33 m-4.17 -4.17h8.33"/>
<path d="M303.5 449.33v8.33 m-4.17 -4.17h8.33"/>
<path d="M267.5 452.33v8.33 m-4.17 -4.17h8.33"/>
<path d="M251.5 448.33v8.33 m-4.17 -4.17h8.33"/>
<path d="M249.5 447.33v8.33 m-4.17 -4.17h8.33"/>
<path d="M272.5 450.33v8.33 m-4.17 -4.17h8.33"/>
<path d="M260.5 448.33v8.33 m-4.17 -4.17h8.33"/>
<path d="M314.5 451.33v8.33 m-4.17 -4.17h8.33"/>
<path d="M249.5 450.33v8.33 m-4.17 -4.17h8.33"/>
<path d="M258.5 445.33v8.33 m-4.17 -4.17h8.33"/>
<path d="M320.5 448.33v8.33 m-4.17 -4.17h8.33"/>
<path d="M271.5 445.33v8.33 m-4.17 -4.17h8.33"/>
<path d="M278.5 445.33v8.33 m-4.17 -4.17h8.33"/>
<path d="M294.5 454.33v8.33 m-4.17 -4.17h8.33"/>
<path d="M277.5 448.33v8.33 m-4.17 -4.17h8.33"/>
<path d="M253.5 450.33v8.33 m-4.17 -4.17h8.33"/>
<path d="M257.5 451.33v8.33 m-4.17 -4.17h8.33"/>
<path d="M321.5 448.33v8.33 m-4.17 -4.17h8.33"/>
<path d="M268.5 449.33v8.33 m-4.17 -4.17h8.33"/>
<path d="M264.5 453.33v8.33 m-4.17 -4.17h8.33"/>
<path d="M278.5 454.33v8.33 m-4.17 -4.17h8.33"/>
<path d="M312.5 448.33v8.33 m-4.17 -4.17h8.33"/>
<path d="M298.5 454.33v8.33 m-4.17 -4.17h8.33"/>
<path d="M291.5 446.33v8.33 m-4.17 -4.17h8.33"/>
<path d="M304.5 454.33v8.33 m-4.17 -4.17h8.33"/>
<path d="M284.5 451.33v8.33 m-4.17 -4.17h8.33"/>
<path d="M307.5 448.33v8.33 m-4.17 -4.17h8.33"/>
<path d="M253.5 448.33v8.33 m-4.17 -4.17h8.33"/>
<path d="M320.5 452.33v8.33 m-4.17 -4.17h8.33"/>
<path d="M275.5 452.33v8.33 m-4.17 -4.17h8.33"/>
<path d="M272.5 449.33v8.33 m-4.17 -4.17h8.33"/>
<path d="M269.5 445.33v8.33 m-4.17 -4.17h8.33"/>
<path d="M300.5 448.33v8.33 m-4.17 -4.17h8.33"/>
<path d="M279.5 453.33v8.33 m-4.17 -4.17h8.33"/>
<path d="M262.5 450.33v8.33 m-4.17 -4.17h8.33"/>
<path d="M319.5 451.33v8.33 m-4.17 -4.17h8.33"/>
<path d="M287.5 451.33v8.33 m-4.17 -4.17h8.33"/>
<path d="M326.5 454.33v8.33 m-4.17 -4.17h8.33"/>
<path d="M284.5 451.33v8.33 m-4.17 -4.17h8.33"/>
<path d="M256.5 451.33v8.33 m-4.17 -4.17h8.33"/>
<path d="M275.5 451.33v8.33 m-4.17 -4.17h8.33"/>
<path d="M269.5 451.33v8.33 m-4.17 -4.17h8.33"/>
<path d="M293.5 453.33v8.33 m-4.17 -4.17h8.33"/>
<path d="M281.5 447.33v8.33 m-4.17 -4.17h8.33"/>
<path d="M281.5 447.33v8.33 m-4.17 -4.17h8.33"/>
<path d="M275.5 449.33v8.33 m-4.17 -4.17h8.33"/>
<path d="M254.5 448.33v8.33 m-4.17 -4.17h8.33"/>
<path d="M259.5 454.33v8.33 m-4.17 -4.17h8.33"/>
<path d="M288.5 446.33v8.33 m-4.17 -4.17h8.33"/>
<path d="M266.5 446.33v8.33 m-4.17 -4.17h8.33"/>
<path d="M270.5 450.33v8.33 m-4.17 -4.17h8.33"/>
<path d="M283.5 452.33v8.33 m-4.17 -4.17h8.33"/>
<path d="M322.5 453.33v8.33 m-4.17 -4.17h8.33"/>
<path d="M251.5 445.33v8.33 m-4.17 -4.17h8.33"/>
<path d="M251.5 448.33v8.33 m-4.17 -4.17h8.33"/>
<path d="M285.5 445.33v8.33 m-4.17 -4.17h8.33"/>
<path d="M294.5 452.33v8.33 m-4.17 -4.17h8.33"/>
<path d="M320.5 450.33v8.33 m-4.17 -4.17h8.33"/>
<path d="M313.5 454.33v8.33 m-4.17 -4.17h8.33"/>
<path d="M268.5 445.33v8.33 m-4.17 -4.17h8.33"/>
<path d="M257.5 451.33v8.33 m-4.17 -4.17h8.33"/>
<path d="M302.5 452.33v8.33 m-4.17 -4.17h8.33"/>
<path d="M321.5 449.33v8.33 m-4.17 -4.17h8.33"/>
<path d="M308.5 446.33v8.33 m-4.17 -4.17h8.33"/>
<path d="M284.5 449.33v8.33 m-4.17 -4.17h8.33"/>
<path d="M309.5 449.33v8.33 m-4.17 -4.17h8.33"/>
<path d="M267.5 453.33v8.33 m-4.17 -4.17h8.33"/>
<path d="M272.5 448.33v8.33 m-4.17 -4.17h8.33"/>
<path d="M259.5 449.33v8.33 m-4.17 -4.17h8.33"/>
<path d="M303.5 453.33v8.33 m-4.17 -4.17h8.33"/>
<path d="M258.5 452.33v8.33 m-4.17 -4.17h8.33"/>
<path d="M294.5 451.33v8.33 m-4.17 -4.17h8.33"/>
<path d="M279.5 450.33v8.33 m-4.17 -4.17h8.33"/>
<path d="M250.5 453.33v8.33 m-4.17 -4.17h8.33"/>
<path d="M272.5 445.33v8.33 m-4.17 -4.17h8.33"/>
<path d="M299.5 451.33v8.33 m-4.17 -4.17h8.33"/>
<path d="M317.5 448.33v8.33 m-4.17 -4.17h8.33"/>
<path d="M268.5 450.33v8.33 m-4.17 -4.17h8.33"/>
<path d="M323.5 449.33v8.33 m-4.17 -4.17h8.33"/>
<path d="M251.5 447.33v8.33 m-4.17 -4.17h8.33"/>
<path d="M287.5 448.33v8.33 m-4.17 -4.17h8.33"/>
<path d="M269.5 447.33v8.33 m-4.17 -4.17h8.33"/>
<path d="M300.5 451.33v8.33 m-4.17 -4.17h8.33"/>
<path d="M252.5 449.33v8.33 m-4.17 -4.17h8.33"/>
<path d="M275.5 446.33v8.33 m-4.17 -4.17h8.33"/>
<path d="M264.5 451.33v8.33 m-4.17 -4.17h8.33"/>
<path d="M310.5 449.33v8.33 m-4.17 -4.17h8.33"/>
<path d="M265.5 446.33v8.33 m-4.17 -4.17h8.33"/>
<path d="M324.5 448.33v8.33 m-4.17 -4.17h8.33"/>
<path d="M267.5 454.33v8.33 m-4.17 -4.17h8.33"/>
<path d="M266.5 450.33v8.33 m-4.17 -4.17h8.33"/>
<path d="M322.5 447.33v8.33 m-4.17 -4.17h8.33"/>
<path d="M287.5 450.33v8.33 m-4.17 -4.17h8.33"/>
<path d="M281.5 451.33v8.33 m-4.17 -4.17h8.33"/>
<path d="M300.5 451.33v8.33 m-4.17 -4.17h8.33"/>
<path d="M279.5 449.33v8.33 m-4.17 -4.17h8.33"/>
<path d="M265.5 451.33v8.33 m-4.17 -4.17h8.33"/>
<path d="M253.5 449.33v8.33 m-4.17 -4.17h8.33"/>
<path d="M254.5 445.33v8.33 m-4.17 -4.17h8.33"/>
<path d="M317.5 453.33v8.33 m-4.17 -4.17h8.33"/>
<path d="M305.5 454.33v8.33 m-4.17 -4.17h8.33"/>
<path d="M274.5 449.33v8.33 m-4.17 -4.17h8.33"/>
<path d="M263.5 453.33v8.33 m-4.17 -4.17h8.33"/>
<path d="M251.5 448.33v8.33 m-4.17 -4.17h8.33"/>
<path d="M300.5 448.33v8.33 m-4.17 -4.17h8.33"/>
<path d="M275.5 451.33v8.33 m-4.17 -4.17h8.33"/>
<path d="M262.5 452.33v8.33 m-4.17 -4.17h8.33"/>
<path d="M276.5 450.33v8.33 m-4.17 -4.17h8.33"/>
<path d="M323.5 454.33v8.33 m-4.17 -4.17h8.33"/>
<path d="M265.5 454.33v8.33 m-4.17 -4.17h8.33"/>
<path d="M276.5 452.33v8.33 m-4.17 -4.17h8.33"/>
<path d="M282.5 445.33v8.33 m-4.17 -4.17h8.33"/>
<path d="M253.5 447.33v8.33 m-4.17 -4.17h8.33"/>
<path d="M320.5 450.33v8.33 m-4.17 -4.17h8.33"/>
<path d="M333.5 443.33v8.33 m-4.17 -4.17h8.33"/>
<path d="M328.5 458.33v8.33 m-4.17 -4.17h8.33"/>
<path d="M340.5 453.33v8.33 m-4.17 -4.17h8.33"/>
<path d="M329.5 442.33v8.33 m-4.17 -4.17h8.33"/>
<path d="M328.5 460.33v8.33 m-4.17 -4.17h8.33"/>
<path d="M335.5 454.33v8.33 m-4.17 -4.17h8.33"/>
<path d="M354.5 454.33v8.33 m-4.17 -4.17h8.33"/>
<path d="M335.5 447.33v8.33 m-4.17 -4.17h8.33"/>
<path d="M370.5 447.33v8.33 m-4.17 -4.17h8.33"/>
<path d="M352.5 447.33v8.33 m-4.17 -4.17h8.33"/>
<path d="M337.5 450.33v8.33 m-4.17 -4.17h8.33"/>
<path d="M354.5 450.33v8.33 m-4.17 -4.17h8.33"/>
<path d="M365.5 442.33v8.33 m-4.17 -4.17h8.33"/>
<path d="M328.5 441.33v8.33 m-4.17 -4.17h8.33"/>
<path d="M334.5 438.33v8.33 m-4.17 -4.17h8.33"/>
<path d="M369.5 452.33v8.33 m-4.17 -4.17h8.33"/>
<path d="M339.5 450.33v8.33 m-4.17 -4.17h8.33"/>
<path d="M343.5 455.33v8.33 m-4.17 -4.17h8.33"/>
<path d="M366.5 454.33v8.33 m-4.17 -4.17h8.33"/>
<path d="M353.5 458.33v8.33 m-4.17 -4.17h8.33"/>
<path d="M358.5 451.33v8.33 m-4.17 -4.17h8.33"/>
<path d="M337.5 443.33v8.33 m-4.17 -4.17h8.33"/>
<path d="M337.5 444.33v8.33 m-4.17 -4.17h8.33"/>
<path d="M330.5 457.33v8.33 m-4.17 -4.17h8.33"/>
<path d="M333.5 450.33v8.33 m-4.17 -4.17h8.33"/>
<path d="M329.5 446.33v8.33 m-4.17 -4.17h8.33"/>
<path d="M328.5 446.33v8.33 m-4.17 -4.17h8.33"/>
<path d="M373.5 449.33v8.33 m-4.17 -4.17h8.33"/>
<path d="M362.5 454.33v8.33 m-4.17 -4.17h8.33"/>
<path d="M330.5 450.33v8.33 m-4.17 -4.17h8.33"/>
<path d="M330.5 442.33v8.33 m-4.17 -4.17h8.33"/>
<path d="M341.5 450.33v8.33 m-4.17 -4.17h8.33"/>
<path d="M334.5 444.33v8.33 m-4.17 -4.17h8.33"/>
<path d="M350.5 453.33v8.33 m-4.17 -4.17h8.33"/>
<path d="M354.5 454.33v8.33 m-4.17 -4.17h8.33"/>
<path d="M331.5 444.33v8.33 m-4.17 -4.17h8.33"/>
<path d="M359.5 448.33v8.33 m-4.17 -4.17h8.33"/>
<path d="M339.5 456.33v8.33 m-4.17 -4.17h8.33"/>
<path d="M353.5 451.33v8.33 m-4.17 -4.17h8.33"/>
<path d="M334.5 454.33v8.33 m-4.17 -4.17h8.33"/>
<path d="M332.5 455.33v8.33 m-4.17 -4.17h8.33"/>
<path d="M337.5 446.33v8.33 m-4.17 -4.17h8.33"/>
<path d="M319.5 463.33v8.33 m-4.17 -4.17h8.33"/>
<path d="M325.5 458.33v8.33 m-4.17 -4.17h8.33"/>
<path d="M341.5 461.33v8.33 m-4.17 -4.17h8.33"/>
<path d="M351.5 457.33v8.33 m-4.17 -4.17h8.33"/>
<path d="M269.5 441.33v8.33 m-4.17 -4.17h8.33"/>
<path d="M280.5 442.33v8.33 m-4.17 -4.17h8.33"/>
<path d="M256.5 435.33v8.33 m-4.17 -4.17h8.33"/>
<path d="M258.5 434.33v8.33 m-4.17 -4.17h8.33"/>
<path d="M284.5 438.33v8.33 m-4.17 -4.17h8.33"/>
<path d="M282.5 436.33v8.33 m-4.17 -4.17h8.33"/>
<path d="M280.5 436.33v8.33 m-4.17 -4.17h8.33"/>
<path d="M262.5 440.33v8.33 m-4.17 -4.17h8.33"/>
<path d="M283.5 433.33v8.33 m-4.17 -4.17h8.33"/>
<path d="M272.5 438.33v8.33 m-4.17 -4.17h8.33"/>
<path d="M261.5 436.33v8.33 m-4.17 -4.17h8.33"/>
<path d="M259.5 434.33v8.33 m-4.17 -4.17h8.33"/>
<path d="M262.5 438.33v8.33 m-4.17 -4.17h8.33"/>
<path d="M274.5 434.33v8.33 m-4.17 -4.17h8.33"/>
<path d="M285.5 443.33v8.33 m-4.17 -4.17h8.33"/>
<path d="M302.5 431.33v8.33 m-4.17 -4.17h8.33"/>
<path d="M295.5 420.33v8.33 m-4.17 -4.17h8.33"/>
<path d="M305.5 394.33v8.33 m-4.17 -4.17h8.33"/>
<path d="M297.5 439.33v8.33 m-4.17 -4.17h8.33"/>
<path d="M296.5 394.33v8.33 m-4.17 -4.17h8.33"/>
<path d="M295.5 380.33v8.33 m-4.17 -4.17h8.33"/>
<path d="M293.5 370.33v8.33 m-4.17 -4.17h8.33"/>
<path d="M289.5 411.33v8.33 m-4.17 -4.17h8.33"/>
<path d="M285.5 392.33v8.33 m-4.17 -4.17h8.33"/>
<path d="M297.5 320.33v8.33 m-4.17 -4.17h8.33"/>
<path d="M295.5 363.33v8.33 m-4.17 -4.17h8.33"/>
<path d="M309.5 429.33v8.33 m-4.17 -4.17h8.33"/>
<path d="M291.5 409.33v8.33 m-4.17 -4.17h8.33"/>
<path d="M276.5 337.33v8.33 m-4.17 -4.17h8.33"/>
<path d="M300.5 405.33v8.33 m-4.17 -4.17h8.33"/>
<path d="M301.5 433.33v8.33 m-4.17 -4.17h8.33"/>
<path d="M292.5 380.33v8.33 m-4.17 -4.17h8.33"/>
<path d="M297.5 400.33v8.33 m-4.17 -4.17h8.33"/>
<path d="M288.5 434.33v8.33 m-4.17 -4.17h8.33"/>
<path d="M298.5 402.33v8.33 m-4.17 -4.17h8.33"/>
<path d="M280.5 348.33v8.33 m-4.17 -4.17h8.33"/>
<path d="M277.5 428.33v8.33 m-4.17 -4.17h8.33"/>
<path d="M300.5 334.33v8.33 m-4.17 -4.17h8.33"/>
<path d="M292.5 431.33v8.33 m-4.17 -4.17h8.33"/>
<path d="M299.5 398.33v8.33 m-4.17 -4.17h8.33"/>
<path d="M295.5 414.33v8.33 m-4.17 -4.17h8.33"/>
<path d="M295.5 363.33v8.33 m-4.17 -4.17h8.33"/>
<path d="M301.5 302.33v8.33 m-4.17 -4.17h8.33"/>
<path d="M293.5 441.33v8.33 m-4.17 -4.17h8.33"/>
<path d="M299.5 331.33v8.33 m-4.17 -4.17h8.33"/>
<path d="M298.5 394.33v8.33 m-4.17 -4.17h8.33"/>
<path d="M287.5 382.33v8.33 m-4.17 -4.17h8.33"/>
<path d="M299.5 389.33v8.33 m-4.17 -4.17h8.33"/>
<path d="M285.5 409.33v8.33 m-4.17 -4.17h8.33"/>
<path d="M283.5 408.33v8.33 m-4.17 -4.17h8.33"/>
<path d="M283.5 442.33v8.33 m-4.17 -4.17h8.33"/>
<path d="M284.5 427.33v8.33 m-4.17 -4.17h8.33"/>
<path d="M292.5 354.33v8.33 m-4.17 -4.17h8.33"/>
<path d="M281.5 431.33v8.33 m-4.17 -4.17h8.33"/>
<path d="M294.5 404.33v8.33 m-4.17 -4.17h8.33"/>
<path d="M293.5 409.33v8.33 m-4.17 -4.17h8.33"/>
<path d="M281.5 438.33v8.33 m-4.17 -4.17h8.33"/>
<path d="M294.5 441.33v8.33 m-4.17 -4.17h8.33"/>
<path d="M303.5 381.33v8.33 m-4.17 -4.17h8.33"/>
<path d="M297.5 350.33v8.33 m-4.17 -4.17h8.33"/>
<path d="M300.5 399.33v8.33 m-4.17 -4.17h8.33"/>
<path d="M294.5 414.33v8.33 m-4.17 -4.17h8.33"/>
<path d="M301.5 257.33v8.33 m-4.17 -4.17h8.33"/>
<path d="M303.5 362.33v8.33 m-4.17 -4.17h8.33"/>
<path d="M299.5 339.33v8.33 m-4.17 -4.17h8.33"/>
<path d="M313.5 402.33v8.33 m-4.17 -4.17h8.33"/>
<path d="M295.5 249.33v8.33 m-4.17 -4.17h8.33"/>
<path d="M291.5 417.33v8.33 m-4.17 -4.17h8.33"/>
<path d="M297.5 339.33v8.33 m-4.17 -4.17h8.33"/>
<path d="M283.5 425.33v8.33 m-4.17 -4.17h8.33"/>
<path d="M290.5 441.33v8.33 m-4.17 -4.17h8.33"/>
<path d="M301.5 431.33v8.33 m-4.17 -4.17h8.33"/>
<path d="M307.5 373.33v8.33 m-4.17 -4.17h8.33"/>
<path d="M304.5 397.33v8.33 m-4.17 -4.17h8.33"/>
<path d="M280.5 381.33v8.33 m-4.17 -4.17h8.33"/>
<path d="M304.5 393.33v8.33 m-4.17 -4.17h8.33"/>
<path d="M293.5 390.33v8.33 m-4.17 -4.17h8.33"/>
<path d="M279.5 382.33v8.33 m-4.17 -4.17h8.33"/>
<path d="M300.5 424.33v8.33 m-4.17 -4.17h8.33"/>
<path d="M287.5 354.33v8.33 m-4.17 -4.17h8.33"/>
<path d="M297.5 407.33v8.33 m-4.17 -4.17h8.33"/>
<path d="M303.5 440.33v8.33 m-4.17 -4.17h8.33"/>
<path d="M290.5 337.33v8.33 m-4.17 -4.17h8.33"/>
<path d="M287.5 389.33v8.33 m-4.17 -4.17h8.33"/>
<path d="M284.5 443.33v8.33 m-4.17 -4.17h8.33"/>
<path d="M297.5 441.33v8.33 m-4.17 -4.17h8.33"/>
<path d="M300.5 408.33v8.33 m-4.17 -4.17h8.33"/>
<path d="M294.5 399.33v8.33 m-4.17 -4.17h8.33"/>
<path d="M288.5 428.33v8.33 m-4.17 -4.17h8.33"/>
<path d="M291.5 378.33v8.33 m-4.17 -4.17h8.33"/>
<path d="M291.5 416.33v8.33 m-4.17 -4.17h8.33"/>
<path d="M287.5 437.33v8.33 m-4.17 -4.17h8.33"/>
<path d="M295.5 389.33v8.33 m-4.17 -4.17h8.33"/>
<path d="M294.5 388.33v8.33 m-4.17 -4.17h8.33"/>
<path d="M302.5 404.33v8.33 m-4.17 -4.17h8.33"/>
<path d="M296.5 435.33v8.33 m-4.17 -4.17h8.33"/>
<path d="M288.5 433.33v8.33 m-4.17 -4.17h8.33"/>
<path d="M279.5 437.33v8.33 m-4.17 -4.17h8.33"/>
<path d="M277.5 349.33v8.33 m-4.17 -4.17h8.33"/>
<path d="M290.5 412.33v8.33 m-4.17 -4.17h8.33"/>
<path d="M292.5 379.33v8.33 m-4.17 -4.17h8.33"/>
<path d="M283.5 392.33v8.33 m-4.17 -4.17h8.33"/>
<path d="M300.5 407.33v8.33 m-4.17 -4.17h8.33"/>
<path d="M290.5 272.33v8.33 m-4.17 -4.17h8.33"/>
<path d="M284.5 441.33v8.33 m-4.17 -4.17h8.33"/>
<path d="M285.5 396.33v8.33 m-4.17 -4.17h8.33"/>
<path d="M294.5 440.33v8.33 m-4.17 -4.17h8.33"/>
<path d="M301.5 350.33v8.33 m-4.17 -4.17h8.33"/>
<path d="M283.5 430.33v8.33 m-4.17 -4.17h8.33"/>
<path d="M284.5 380.33v8.33 m-4.17 -4.17h8.33"/>
<path d="M294.5 339.33v8.33 m-4.17 -4.17h8.33"/>
<path d="M297.5 421.33v8.33 m-4.17 -4.17h8.33"/>
<path d="M302.5 440.33v8.33 m-4.17 -4.17h8.33"/>
<path d="M281.5 366.33v8.33 m-4.17 -4.17h8.33"/>
<path d="M298.5 443.33v8.33 m-4.17 -4.17h8.33"/>
<path d="M279.5 405.33v8.33 m-4.17 -4.17h8.33"/>
<path d="M285.5 360.33v8.33 m-4.17 -4.17h8.33"/>
<path d="M292.5 437.33v8.33 m-4.17 -4.17h8.33"/>
<path d="M298.5 427.33v8.33 m-4.17 -4.17h8.33"/>
<path d="M292.5 358.33v8.33 m-4.17 -4.17h8.33"/>
<path d="M298.5 370.33v8.33 m-4.17 -4.17h8.33"/>
<path d="M279.5 424.33v8.33 m-4.17 -4.17h8.33"/>
<path d="M277.5 393.33v8.33 m-4.17 -4.17h8.33"/>
<path d="M296.5 398.33v8.33 m-4.17 -4.17h8.33"/>
<path d="M277.5 424.33v8.33 m-4.17 -4.17h8.33"/>
<path d="M273.5 428.33v8.33 m-4.17 -4.17h8.33"/>
<path d="M291.5 359.33v8.33 m-4.17 -4.17h8.33"/>
<path d="M290.5 264.33v8.33 m-4.17 -4.17h8.33"/>
<path d="M283.5 419.33v8.33 m-4.17 -4.17h8.33"/>
<path d="M301.5 427.33v8.33 m-4.17 -4.17h8.33"/>
<path d="M284.5 370.33v8.33 m-4.17 -4.17h8.33"/>
<path d="M300.5 376.33v8.33 m-4.17 -4.17h8.33"/>
<path d="M289.5 330.33v8.33 m-4.17 -4.17h8.33"/>
<path d="M296.5 369.33v8.33 m-4.17 -4.17h8.33"/>
<path d="M283.5 364.33v8.33 m-4.17 -4.17h8.33"/>
<path d="M288.5 391.33v8.33 m-4.17 -4.17h8.33"/>
<path d="M296.5 383.33v8.33 m-4.17 -4.17h8.33"/>
<path d="M295.5 438.33v8.33 m-4.17 -4.17h8.33"/>
<path d="M288.5 442.33v8.33 m-4.17 -4.17h8.33"/>
<path d="M298.5 437.33v8.33 m-4.17 -4.17h8.33"/>
<path d="M287.5 434.33v8.33 m-4.17 -4.17h8.33"/>
<path d="M303.5 442.33v8.33 m-4.17 -4.17h8.33"/>
<path d="M294.5 381.33v8.33 m-4.17 -4.17h8.33"/>
<path d="M290.5 369.33v8.33 m-4.17 -4.17h8.33"/>
<path d="M287.5 388.33v8.33 m-4.17 -4.17h8.33"/>
<path d="M297.5 415.33v8.33 m-4.17 -4.17h8.33"/>
<path d="M308.5 318.33v8.33 m-4.17 -4.17h8.33"/>
<path d="M280.5 436.33v8.33 m-4.17 -4.17h8.33"/>
<path d="M292.5 429.33v8.33 m-4.17 -4.17h8.33"/>
<path d="M292.5 327.33v8.33 m-4.17 -4.17h8.33"/>
<path d="M280.5 340.33v8.33 m-4.17 -4.17h8.33"/>
<path d="M279.5 382.33v8.33 m-4.17 -4.17h8.33"/>
<path d="M294.5 422.33v8.33 m-4.17 -4.17h8.33"/>
<path d="M293.5 356.33v8.33 m-4.17 -4.17h8.33"/>
<path d="M287.5 429.33v8.33 m-4.17 -4.17h8.33"/>
<path d="M299.5 442.33v8.33 m-4.17 -4.17h8.33"/>
<path d="M288.5 425.33v8.33 m-4.17 -4.17h8.33"/>
<path d="M304.5 415.33v8.33 m-4.17 -4.17h8.33"/>
<path d="M300.5 420.33v8.33 m-4.17 -4.17h8.33"/>
<path d="M288.5 325.33v8.33 m-4.17 -4.17h8.33"/>
<path d="M299.5 384.33v8.33 m-4.17 -4.17h8.33"/>
<path d="M292.5 408.33v8.33 m-4.17 -4.17h8.33"/>
<path d="M283.5 352.33v8.33 m-4.17 -4.17h8.33"/>
<path d="M301.5 396.33v8.33 m-4.17 -4.17h8.33"/>
<path d="M293.5 428.33v8.33 m-4.17 -4.17h8.33"/>
<path d="M288.5 337.33v8.33 m-4.17 -4.17h8.33"/>
<path d="M296.5 432.33v8.33 m-4.17 -4.17h8.33"/>
<path d="M291.5 354.33v8.33 m-4.17 -4.17h8.33"/>
<path d="M291.5 402.33v8.33 m-4.17 -4.17h8.33"/>
<path d="M294.5 345.33v8.33 m-4.17 -4.17h8.33"/>
<path d="M300.5 417.33v8.33 m-4.17 -4.17h8.33"/>
<path d="M289.5 333.33v8.33 m-4.17 -4.17h8.33"/>
<path d="M311.5 423.33v8.33 m-4.17 -4.17h8.33"/>
<path d="M287.5 429.33v8.33 m-4.17 -4.17h8.33"/>
<path d="M281.5 436.33v8.33 m-4.17 -4.17h8.33"/>
<path d="M304.5 381.33v8.33 m-4.17 -4.17h8.33"/>
<path d="M298.5 369.33v8.33 m-4.17 -4.17h8.33"/>
<path d="M285.5 348.33v8.33 m-4.17 -4.17h8.33"/>
<path d="M285.5 412.33v8.33 m-4.17 -4.17h8.33"/>
<path d="M293.5 412.33v8.33 m-4.17 -4.17h8.33"/>
<path d="M289.5 429.33v8.33 m-4.17 -4.17h8.33"/>
<path d="M309.5 400.33v8.33 m-4.17 -4.17h8.33"/>
<path d="M295.5 414.33v8.33 m-4.17 -4.17h8.33"/>
<path d="M286.5 405.33v8.33 m-4.17 -4.17h8.33"/>
<path d="M291.5 396.33v8.33 m-4.17 -4.17h8.33"/>
<path d="M276.5 379.33v8.33 m-4.17 -4.17h8.33"/>
<path d="M288.5 417.33v8.33 m-4.17 -4.17h8.33"/>
<path d="M295.5 329.33v8.33 m-4.17 -4.17h8.33"/>
<path d="M290.5 376.33v8.33 m-4.17 -4.17h8.33"/>
<path d="M285.5 408.33v8.33 m-4.17 -4.17h8.33"/>
<path d="M287.5 351.33v8.33 m-4.17 -4.17h8.33"/>
<path d="M288.5 405.33v8.33 m-4.17 -4.17h8.33"/>
<path d="M296.5 368.33v8.33 m-4.17 -4.17h8.33"/>
<path d="M293.5 328.33v8.33 m-4.17 -4.17h8.33"/>
<path d="M295.5 426.33v8.33 m-4.17 -4.17h8.33"/>
<path d="M286.5 419.33v8.33 m-4.17 -4.17h8.33"/>
<path d="M290.5 419.33v8.33 m-4.17 -4.17h8.33"/>
<path d="M304.5 430.33v8.33 m-4.17 -4.17h8.33"/>
<path d="M288.5 437.33v8.33 m-4.17 -4.17h8.33"/>
<path d="M290.5 345.33v8.33 m-4.17 -4.17h8.33"/>
<path d="M281.5 430.33v8.33 m-4.17 -4.17h8.33"/>
<path d="M295.5 381.33v8.33 m-4.17 -4.17h8.33"/>
<path d="M294.5 413.33v8.33 m-4.17 -4.17h8.33"/>
<path d="M278.5 441.33v8.33 m-4.17 -4.17h8.33"/>
<path d="M299.5 370.33v8.33 m-4.17 -4.17h8.33"/>
<path d="M284.5 400.33v8.33 m-4.17 -4.17h8.33"/>
<path d="M283.5 434.33v8.33 m-4.17 -4.17h8.33"/>
<path d="M279.5 386.33v8.33 m-4.17 -4.17h8.33"/>
<path d="M290.5 391.33v8.33 m-4.17 -4.17h8.33"/>
<path d="M282.5 427.33v8.33 m-4.17 -4.17h8.33"/>
<path d="M301.5 364.33v8.33 m-4.17 -4.17h8.33"/>
<path d="M280.5 369.33v8.33 m-4.17 -4.17h8.33"/>
<path d="M285.5 325.33v8.33 m-4.17 -4.17h8.33"/>
<path d="M279.5 406.33v8.33 m-4.17 -4.17h8.33"/>
<path d="M288.5 420.33v8.33 m-4.17 -4.17h8.33"/>
<path d="M288.5 410.33v8.33 m-4.17 -4.17h8.33"/>
<path d="M288.5 349.33v8.33 m-4.17 -4.17h8.33"/>
<path d="M279.5 426.33v8.33 m-4.17 -4.17h8.33"/>
<path d="M279.5 409.33v8.33 m-4.17 -4.17h8.33"/>
<path d="M294.5 411.33v8.33 m-4.17 -4.17h8.33"/>
<path d="M295.5 374.33v8.33 m-4.17 -4.17h8.33"/>
<path d="M288.5 378.33v8.33 m-4.17 -4.17h8.33"/>
<path d="M283.5 350.33v8.33 m-4.17 -4.17h8.33"/>
<path d="M286.5 441.33v8.33 m-4.17 -4.17h8.33"/>
<path d="M289.5 349.33v8.33 m-4.17 -4.17h8.33"/>
<path d="M290.5 395.33v8.33 m-4.17 -4.17h8.33"/>
<path d="M278.5 365.33v8.33 m-4.17 -4.17h8.33"/>
<path d="M290.5 334.33v8.33 m-4.17 -4.17h8.33"/>
<path d="M273.5 398.33v8.33 m-4.17 -4.17h8.33"/>
<path d="M302.5 429.33v8.33 m-4.17 -4.17h8.33"/>
<path d="M279.5 372.33v8.33 m-4.17 -4.17h8.33"/>
<path d="M300.5 435.33v8.33 m-4.17 -4.17h8.33"/>
<path d="M293.5 424.33v8.33 m-4.17 -4.17h8.33"/>
<path d="M299.5 412.33v8.33 m-4.17 -4.17h8.33"/>
<path d="M291.5 410.33v8.33 m-4.17 -4.17h8.33"/>
<path d="M287.5 369.33v8.33 m-4.17 -4.17h8.33"/>
<path d="M296.5 428.33v8.33 m-4.17 -4.17h8.33"/>
<path d="M300.5 360.33v8.33 m-4.17 -4.17h8.33"/>
<path d="M287.5 428.33v8.33 m-4.17 -4.17h8.33"/>
<path d="M286.5 343.33v8.33 m-4.17 -4.17h8.33"/>
<path d="M294.5 435.33v8.33 m-4.17 -4.17h8.33"/>
<path d="M295.5 351.33v8.33 m-4.17 -4.17h8.33"/>
<path d="M279.5 404.33v8.33 m-4.17 -4.17h8.33"/>
<path d="M294.5 392.33v8.33 m-4.17 -4.17h8.33"/>
<path d="M312.5 416.33v8.33 m-4.17 -4.17h8.33"/>
<path d="M297.5 380.33v8.33 m-4.17 -4.17h8.33"/>
<path d="M276.5 404.33v8.33 m-4.17 -4.17h8.33"/>
<path d="M286.5 422.33v8.33 m-4.17 -4.17h8.33"/>
<path d="M289.5 332.33v8.33 m-4.17 -4.17h8.33"/>
<path d="M294.5 416.33v8.33 m-4.17 -4.17h8.33"/>
<path d="M285.5 414.33v8.33 m-4.17 -4.17h8.33"/>
<path d="M286.5 425.33v8.33 m-4.17 -4.17h8.33"/>
<path d="M293.5 443.33v8.33 m-4.17 -4.17h8.33"/>
<path d="M289.5 364.33v8.33 m-4.17 -4.17h8.33"/>
<path d="M297.5 421.33v8.33 m-4.17 -4.17h8.33"/>
<path d="M280.5 403.33v8.33 m-4.17 -4.17h8.33"/>
<path d="M296.5 377.33v8.33 m-4.17 -4.17h8.33"/>
<path d="M306.5 416.33v8.33 m-4.17 -4.17h8.33"/>
<path d="M283.5 440.33v8.33 m-4.17 -4.17h8.33"/>
<path d="M303.5 334.33v8.33 m-4.17 -4.17h8.33"/>
<path d="M282.5 434.33v8.33 m-4.17 -4.17h8.33"/>
<path d="M290.5 333.33v8.33 m-4.17 -4.17h8.33"/>
<path d="M289.5 443.33v8.33 m-4.17 -4.17h8.33"/>
<path d="M285.5 434.33v8.33 m-4.17 -4.17h8.33"/>
<path d="M292.5 427.33v8.33 m-4.17 -4.17h8.33"/>
<path d="M283.5 433.33v8.33 m-4.17 -4.17h8.33"/>
<path d="M292.5 298.33v8.33 m-4.17 -4.17h8.33"/>
<path d="M286.5 385.33v8.33 m-4.17 -4.17h8.33"/>
<path d="M282.5 349.33v8.33 m-4.17 -4.17h8.33"/>
<path d="M275.5 347.33v8.33 m-4.17 -4.17h8.33"/>
<path d="M295.5 330.33v8.33 m-4.17 -4.17h8.33"/>
<path d="M303.5 397.33v8.33 m-4.17 -4.17h8.33"/>
<path d="M274.5 360.33v8.33 m-4.17 -4.17h8.33"/>
<path d="M297.5 393.33v8.33 m-4.17 -4.17h8.33"/>
<path d="M291.5 424.33v8.33 m-4.17 -4.17h8.33"/>
<path d="M295.5 401.33v8.33 m-4.17 -4.17h8.33"/>
<path d="M286.5 440.33v8.33 m-4.17 -4.17h8.33"/>
<path d="M291.5 402.33v8.33 m-4.17 -4.17h8.33"/>
<path d="M274.5 401.33v8.33 m-4.17 -4.17h8.33"/>
<path d="M286.5 443.33v8.33 m-4.17 -4.17h8.33"/>
<path d="M280.5 330.33v8.33 m-4.17 -4.17h8.33"/>
<path d="M293.5 376.33v8.33 m-4.17 -4.17h8.33"/>
<path d="M284.5 330.33v8.33 m-4.17 -4.17h8.33"/>
<path d="M283.5 439.33v8.33 m-4.17 -4.17h8.33"/>
<path d="M281.5 442.33v8.33 m-4.17 -4.17h8.33"/>
<path d="M282.5 385.33v8.33 m-4.17 -4.17h8.33"/>
<path d="M273.5 419.33v8.33 m-4.17 -4.17h8.33"/>
<path d="M285.5 365.33v8.33 m-4.17 -4.17h8.33"/>
<path d="M285.5 321.33v8.33 m-4.17 -4.17h8.33"/>
<path d="M280.5 415.33v8.33 m-4.17 -4.17h8.33"/>
<path d="M292.5 352.33v8.33 m-4.17 -4.17h8.33"/>
<path d="M282.5 429.33v8.33 m-4.17 -4.17h8.33"/>
<path d="M294.5 393.33v8.33 m-4.17 -4.17h8.33"/>
<path d="M286.5 335.33v8.33 m-4.17 -4.17h8.33"/>
<path d="M306.5 411.33v8.33 m-4.17 -4.17h8.33"/>
<path d="M289.5 400.33v8.33 m-4.17 -4.17h8.33"/>
<path d="M292.5 378.33v8.33 m-4.17 -4.17h8.33"/>
<path d="M283.5 420.33v8.33 m-4.17 -4.17h8.33"/>
<path d="M280.5 421.33v8.33 m-4.17 -4.17h8.33"/>
<path d="M284.5 348.33v8.33 m-4.17 -4.17h8.33"/>
<path d="M287.5 441.33v8.33 m-4.17 -4.17h8.33"/>
<path d="M273.5 395.33v8.33 m-4.17 -4.17h8.33"/>
<path d="M290.5 440.33v8.33 m-4.17 -4.17h8.33"/>
<path d="M291.5 430.33v8.33 m-4.17 -4.17h8.33"/>
<path d="M281.5 286.33v8.33 m-4.17 -4.17h8.33"/>
<path d="M281.5 384.33v8.33 m-4.17 -4.17h8.33"/>
<path d="M281.5 387.33v8.33 m-4.17 -4.17h8.33"/>
<path d="M293.5 373.33v8.33 m-4.17 -4.17h8.33"/>
<path d="M303.5 406.33v8.33 m-4.17 -4.17h8.33"/>
<path d="M295.5 354.33v8.33 m-4.17 -4.17h8.33"/>
<path d="M294.5 441.33v8.33 m-4.17 -4.17h8.33"/>
<path d="M301.5 351.33v8.33 m-4.17 -4.17h8.33"/>
<path d="M284.5 415.33v8.33 m-4.17 -4.17h8.33"/>
<path d="M293.5 336.33v8.33 m-4.17 -4.17h8.33"/>
<path d="M280.5 425.33v8.33 m-4.17 -4.17h8.33"/>
<path d="M284.5 421.33v8.33 m-4.17 -4.17h8.33"/>
<path d="M294.5 409.33v8.33 m-4.17 -4.17h8.33"/>
<path d="M293.5 380.33v8.33 m-4.17 -4.17h8.33"/>
<path d="M289.5 392.33v8.33 m-4.17 -4.17h8.33"/>
<path d="M302.5 441.33v8.33 m-4.17 -4.17h8.33"/>
<path d="M301.5 390.33v8.33 m-4.17 -4.17h8.33"/>
<path d="M291.5 388.33v8.33 m-4.17 -4.17h8.33"/>
<path d="M289.5 437.33v8.33 m-4.17 -4.17h8.33"/>
<path d="M292.5 379.33v8.33 m-4.17 -4.17h8.33"/>
<path d="M295.5 443.33v8.33 m-4.17 -4.17h8.33"/>
<path d="M289.5 443.33v8.33 m-4.17 -4.17h8.33"/>
<path d="M294.5 438.33v8.33 m-4.17 -4.17h8.33"/>
<path d="M287.5 442.33v8.33 m-4.17 -4.17h8.33"/>
<path d="M291.5 365.33v8.33 m-4.17 -4.17h8.33"/>
<path d="M304.5 431.33v8.33 m-4.17 -4.17h8.33"/>
<path d="M293.5 440.33v8.33 m-4.17 -4.17h8.33"/>
<path d="M277.5 324.33v8.33 m-4.17 -4.17h8.33"/>
<path d="M301.5 362.33v8.33 m-4.17 -4.17h8.33"/>
<path d="M297.5 367.33v8.33 m-4.17 -4.17h8.33"/>
<path d="M296.5 405.33v8.33 m-4.17 -4.17h8.33"/>
<path d="M292.5 365.33v8.33 m-4.17 -4.17h8.33"/>
<path d="M291.5 378.33v8.33 m-4.17 -4.17h8.33"/>
<path d="M297.5 338.33v8.33 m-4.17 -4.17h8.33"/>
<path d="M294.5 362.33v8.33 m-4.17 -4.17h8.33"/>
<path d="M297.5 432.33v8.33 m-4.17 -4.17h8.33"/>
<path d="M283.5 440.33v8.33 m-4.17 -4.17h8.33"/>
<path d="M282.5 415.33v8.33 m-4.17 -4.17h8.33"/>
<path d="M286.5 373.33v8.33 m-4.17 -4.17h8.33"/>
<path d="M293.5 434.33v8.33 m-4.17 -4.17h8.33"/>
<path d="M283.5 379.33v8.33 m-4.17 -4.17h8.33"/>
<path d="M283.5 382.33v8.33 m-4.17 -4.17h8.33"/>
<path d="M295.5 348.33v8.33 m-4.17 -4.17h8.33"/>
<path d="M280.5 440.33v8.33 m-4.17 -4.17h8.33"/>
<path d="M275.5 418.33v8.33 m-4.17 -4.17h8.33"/>
<path d="M306.5 386.33v8.33 m-4.17 -4.17h8.33"/>
<path d="M288.5 387.33v8.33 m-4.17 -4.17h8.33"/>
<path d="M274.5 421.33v8.33 m-4.17 -4.17h8.33"/>
<path d="M298.5 414.33v8.33 m-4.17 -4.17h8.33"/>
<path d="M276.5 372.33v8.33 m-4.17 -4.17h8.33"/>
<path d="M280.5 341.33v8.33 m-4.17 -4.17h8.33"/>
<path d="M297.5 423.33v8.33 m-4.17 -4.17h8.33"/>
<path d="M291.5 409.33v8.33 m-4.17 -4.17h8.33"/>
<path d="M298.5 389.33v8.33 m-4.17 -4.17h8.33"/>
<path d="M274.5 441.33v8.33 m-4.17 -4.17h8.33"/>
<path d="M297.5 332.33v8.33 m-4.17 -4.17h8.33"/>
<path d="M275.5 391.33v8.33 m-4.17 -4.17h8.33"/>
<path d="M300.5 424.33v8.33 m-4.17 -4.17h8.33"/>
<path d="M278.5 372.33v8.33 m-4.17 -4.17h8.33"/>
<path d="M293.5 345.33v8.33 m-4.17 -4.17h8.33"/>
<path d="M291.5 430.33v8.33 m-4.17 -4.17h8.33"/>
<path d="M320.5 432.33v8.33 m-4.17 -4.17h8.33"/>
<path d="M329.5 431.33v8.33 m-4.17 -4.17h8.33"/>
<path d="M305.5 374.33v8.33 m-4.17 -4.17h8.33"/>
<path d="M289.5 435.33v8.33 m-4.17 -4.17h8.33"/>
<path d="M326.5 409.33v8.33 m-4.17 -4.17h8.33"/>
<path d="M292.5 378.33v8.33 m-4.17 -4.17h8.33"/>
<path d="M285.5 443.33v8.33 m-4.17 -4.17h8.33"/>
<path d="M291.5 380.33v8.33 m-4.17 -4.17h8.33"/>
<path d="M301.5 320.33v8.33 m-4.17 -4.17h8.33"/>
<path d="M320.5 431.33v8.33 m-4.17 -4.17h8.33"/>
<path d="M290.5 436.33v8.33 m-4.17 -4.17h8.33"/>
<path d="M295.5 400.33v8.33 m-4.17 -4.17h8.33"/>
<path d="M291.5 384.33v8.33 m-4.17 -4.17h8.33"/>
<path d="M308.5 416.33v8.33 m-4.17 -4.17h8.33"/>
<path d="M289.5 443.33v8.33 m-4.17 -4.17h8.33"/>
<path d="M294.5 359.33v8.33 m-4.17 -4.17h8.33"/>
<path d="M308.5 426.33v8.33 m-4.17 -4.17h8.33"/>
<path d="M318.5 437.33v8.33 m-4.17 -4.17h8.33"/>
<path d="M298.5 426.33v8.33 m-4.17 -4.17h8.33"/>
<path d="M303.5 438.33v8.33 m-4.17 -4.17h8.33"/>
<path d="M329.5 434.33v8.33 m-4.17 -4.17h8.33"/>
<path d="M286.5 348.33v8.33 m-4.17 -4.17h8.33"/>
<path d="M292.5 443.33v8.33 m-4.17 -4.17h8.33"/>
<path d="M344.5 435.33v8.33 m-4.17 -4.17h8.33"/>
<path d="M294.5 415.33v8.33 m-4.17 -4.17h8.33"/>
<path d="M318.5 373.33v8.33 m-4.17 -4.17h8.33"/>
<path d="M333.5 421.33v8.33 m-4.17 -4.17h8.33"/>
<path d="M301.5 342.33v8.33 m-4.17 -4.17h8.33"/>
<path d="M299.5 369.33v8.33 m-4.17 -4.17h8.33"/>
<path d="M313.5 443.33v8.33 m-4.17 -4.17h8.33"/>
<path d="M322.5 391.33v8.33 m-4.17 -4.17h8.33"/>
<path d="M335.5 423.33v8.33 m-4.17 -4.17h8.33"/>
<path d="M324.5 412.33v8.33 m-4.17 -4.17h8.33"/>
<path d="M288.5 442.33v8.33 m-4.17 -4.17h8.33"/>
<path d="M320.5 412.33v8.33 m-4.17 -4.17h8.33"/>
<path d="M289.5 422.33v8.33 m-4.17 -4.17h8.33"/>
<path d="M337.5 436.33v8.33 m-4.17 -4.17h8.33"/>
<path d="M305.5 367.33v8.33 m-4.17 -4.17h8.33"/>
<path d="M294.5 426.33v8.33 m-4.17 -4.17h8.33"/>
<path d="M303.5 373.33v8.33 m-4.17 -4.17h8.33"/>
<path d="M316.5 424.33v8.33 m-4.17 -4.17h8.33"/>
<path d="M287.5 443.33v8.33 m-4.17 -4.17h8.33"/>
<path d="M318.5 401.33v8.33 m-4.17 -4.17h8.33"/>
<path d="M303.5 396.33v8.33 m-4.17 -4.17h8.33"/>
<path d="M322.5 420.33v8.33 m-4.17 -4.17h8.33"/>
<path d="M293.5 438.33v8.33 m-4.17 -4.17h8.33"/>
<path d="M288.5 432.33v8.33 m-4.17 -4.17h8.33"/>
<path d="M323.5 434.33v8.33 m-4.17 -4.17h8.33"/>
<path d="M313.5 417.33v8.33 m-4.17 -4.17h8.33"/>
<path d="M315.5 423.33v8.33 m-4.17 -4.17h8.33"/>
<path d="M307.5 415.33v8.33 m-4.17 -4.17h8.33"/>
<path d="M288.5 436.33v8.33 m-4.17 -4.17h8.33"/>
<path d="M330.5 423.33v8.33 m-4.17 -4.17h8.33"/>
<path d="M287.5 309.33v8.33 m-4.17 -4.17h8.33"/>
<path d="M294.5 371.33v8.33 m-4.17 -4.17h8.33"/>
<path d="M315.5 416.33v8.33 m-4.17 -4.17h8.33"/>
<path d="M311.5 415.33v8.33 m-4.17 -4.17h8.33"/>
<path d="M309.5 418.33v8.33 m-4.17 -4.17h8.33"/>
<path d="M306.5 379.33v8.33 m-4.17 -4.17h8.33"/>
<path d="M296.5 408.33v8.33 m-4.17 -4.17h8.33"/>
<path d="M302.5 337.33v8.33 m-4.17 -4.17h8.33"/>
<path d="M309.5 423.33v8.33 m-4.17 -4.17h8.33"/>
<path d="M310.5 396.33v8.33 m-4.17 -4.17h8.33"/>
<path d="M316.5 409.33v8.33 m-4.17 -4.17h8.33"/>
<path d="M330.5 426.33v8.33 m-4.17 -4.17h8.33"/>
<path d="M284.5 282.33v8.33 m-4.17 -4.17h8.33"/>
<path d="M300.5 351.33v8.33 m-4.17 -4.17h8.33"/>
<path d="M290.5 414.33v8.33 m-4.17 -4.17h8.33"/>
<path d="M288.5 425.33v8.33 m-4.17 -4.17h8.33"/>
<path d="M318.5 406.33v8.33 m-4.17 -4.17h8.33"/>
<path d="M324.5 431.33v8.33 m-4.17 -4.17h8.33"/>
<path d="M308.5 436.33v8.33 m-4.17 -4.17h8.33"/>
<path d="M285.5 441.33v8.33 m-4.17 -4.17h8.33"/>
<path d="M313.5 425.33v8.33 m-4.17 -4.17h8.33"/>
<path d="M305.5 407.33v8.33 m-4.17 -4.17h8.33"/>
<path d="M301.5 351.33v8.33 m-4.17 -4.17h8.33"/>
<path d="M288.5 431.33v8.33 m-4.17 -4.17h8.33"/>
<path d="M301.5 433.33v8.33 m-4.17 -4.17h8.33"/>
<path d="M306.5 432.33v8.33 m-4.17 -4.17h8.33"/>
<path d="M313.5 429.33v8.33 m-4.17 -4.17h8.33"/>
<path d="M305.5 422.33v8.33 m-4.17 -4.17h8.33"/>
<path d="M339.5 442.33v8.33 m-4.17 -4.17h8.33"/>
<path d="M320.5 439.33v8.33 m-4.17 -4.17h8.33"/>
<path d="M298.5 367.33v8.33 m-4.17 -4.17h8.33"/>
<path d="M316.5 434.33v8.33 m-4.17 -4.17h8.33"/>
<path d="M299.5 431.33v8.33 m-4.17 -4.17h8.33"/>
<path d="M287.5 357.33v8.33 m-4.17 -4.17h8.33"/>
<path d="M296.5 381.33v8.33 m-4.17 -4.17h8.33"/>
<path d="M314.5 423.33v8.33 m-4.17 -4.17h8.33"/>
<path d="M324.5 441.33v8.33 m-4.17 -4.17h8.33"/>
<path d="M294.5 430.33v8.33 m-4.17 -4.17h8.33"/>
<path d="M306.5 361.33v8.33 m-4.17 -4.17h8.33"/>
<path d="M294.5 398.33v8.33 m-4.17 -4.17h8.33"/>
<path d="M338.5 432.33v8.33 m-4.17 -4.17h8.33"/>
<path d="M294.5 388.33v8.33 m-4.17 -4.17h8.33"/>
<path d="M308.5 428.33v8.33 m-4.17 -4.17h8.33"/>
<path d="M345.5 420.33v8.33 m-4.17 -4.17h8.33"/>
<path d="M293.5 381.33v8.33 m-4.17 -4.17h8.33"/>
<path d="M288.5 385.33v8.33 m-4.17 -4.17h8.33"/>
<path d="M306.5 369.33v8.33 m-4.17 -4.17h8.33"/>
<path d="M324.5 441.33v8.33 m-4.17 -4.17h8.33"/>
<path d="M335.5 438.33v8.33 m-4.17 -4.17h8.33"/>
<path d="M288.5 428.33v8.33 m-4.17 -4.17h8.33"/>
<path d="M322.5 432.33v8.33 m-4.17 -4.17h8.33"/>
<path d="M307.5 437.33v8.33 m-4.17 -4.17h8.33"/>
<path d="M340.5 418.33v8.33 m-4.17 -4.17h8.33"/>
<path d="M292.5 425.33v8.33 m-4.17 -4.17h8.33"/>
<path d="M308.5 438.33v8.33 m-4.17 -4.17h8.33"/>
<path d="M284.5 440.33v8.33 m-4.17 -4.17h8.33"/>
<path d="M290.5 409.33v8.33 m-4.17 -4.17h8.33"/>
<path d="M284.5 411.33v8.33 m-4.17 -4.17h8.33"/>
<path d="M302.5 329.33v8.33 m-4.17 -4.17h8.33"/>
<path d="M338.5 442.33v8.33 m-4.17 -4.17h8.33"/>
<path d="M332.5 401.33v8.33 m-4.17 -4.17h8.33"/>
<path d="M293.5 369.33v8.33 m-4.17 -4.17h8.33"/>
<path d="M300.5 410.33v8.33 m-4.17 -4.17h8.33"/>
<path d="M308.5 372.33v8.33 m-4.17 -4.17h8.33"/>
<path d="M307.5 429.33v8.33 m-4.17 -4.17h8.33"/>
<path d="M290.5 419.33v8.33 m-4.17 -4.17h8.33"/>
<path d="M342.5 443.33v8.33 m-4.17 -4.17h8.33"/>
<path d="M308.5 413.33v8.33 m-4.17 -4.17h8.33"/>
<path d="M292.5 370.33v8.33 m-4.17 -4.17h8.33"/>
<path d="M289.5 434.33v8.33 m-4.17 -4.17h8.33"/>
<path d="M304.5 343.33v8.33 m-4.17 -4.17h8.33"/>
<path d="M316.5 429.33v8.33 m-4.17 -4.17h8.33"/>
<path d="M338.5 429.33v8.33 m-4.17 -4.17h8.33"/>
<path d="M297.5 396.33v8.33 m-4.17 -4.17h8.33"/>
<path d="M301.5 407.33v8.33 m-4.17 -4.17h8.33"/>
<path d="M292.5 438.33v8.33 m-4.17 -4.17h8.33"/>
<path d="M300.5 360.33v8.33 m-4.17 -4.17h8.33"/>
<path d="M315.5 433.33v8.33 m-4.17 -4.17h8.33"/>
<path d="M309.5 440.33v8.33 m-4.17 -4.17h8.33"/>
<path d="M337.5 410.33v8.33 m-4.17 -4.17h8.33"/>
<path d="M289.5 390.33v8.33 m-4.17 -4.17h8.33"/>
<path d="M327.5 432.33v8.33 m-4.17 -4.17h8.33"/>
<path d="M297.5 420.33v8.33 m-4.17 -4.17h8.33"/>
<path d="M323.5 396.33v8.33 m-4.17 -4.17h8.33"/>
<path d="M337.5 439.33v8.33 m-4.17 -4.17h8.33"/>
<path d="M295.5 396.33v8.33 m-4.17 -4.17h8.33"/>
<path d="M298.5 407.33v8.33 m-4.17 -4.17h8.33"/>
<path d="M338.5 429.33v8.33 m-4.17 -4.17h8.33"/>
<path d="M327.5 411.33v8.33 m-4.17 -4.17h8.33"/>
<path d="M323.5 414.33v8.33 m-4.17 -4.17h8.33"/>
<path d="M293.5 423.33v8.33 m-4.17 -4.17h8.33"/>
<path d="M298.5 406.33v8.33 m-4.17 -4.17h8.33"/>
<path d="M284.5 425.33v8.33 m-4.17 -4.17h8.33"/>
<path d="M299.5 442.33v8.33 m-4.17 -4.17h8.33"/>
<path d="M296.5 414.33v8.33 m-4.17 -4.17h8.33"/>
<path d="M309.5 442.33v8.33 m-4.17 -4.17h8.33"/>
<path d="M288.5 425.33v8.33 m-4.17 -4.17h8.33"/>
<path d="M290.5 395.33v8.33 m-4.17 -4.17h8.33"/>
<path d="M303.5 401.33v8.33 m-4.17 -4.17h8.33"/>
<path d="M302.5 426.33v8.33 m-4.17 -4.17h8.33"/>
<path d="M298.5 432.33v8.33 m-4.17 -4.17h8.33"/>
<path d="M292.5 428.33v8.33 m-4.17 -4.17h8.33"/>
<path d="M289.5 327.33v8.33 m-4.17 -4.17h8.33"/>
<path d="M324.5 435.33v8.33 m-4.17 -4.17h8.33"/>
<path d="M321.5 420.33v8.33 m-4.17 -4.17h8.33"/>
<path d="M289.5 443.33v8.33 m-4.17 -4.17h8.33"/>
<path d="M307.5 422.33v8.33 m-4.17 -4.17h8.33"/>
<path d="M300.5 437.33v8.33 m-4.17 -4.17h8.33"/>
<path d="M308.5 400.33v8.33 m-4.17 -4.17h8.33"/>
<path d="M288.5 421.33v8.33 m-4.17 -4.17h8.33"/>
<path d="M333.5 405.33v8.33 m-4.17 -4.17h8.33"/>
<path d="M323.5 409.33v8.33 m-4.17 -4.17h8.33"/>
<path d="M313.5 436.33v8.33 m-4.17 -4.17h8.33"/>
<path d="M310.5 420.33v8.33 m-4.17 -4.17h8.33"/>
<path d="M310.5 405.33v8.33 m-4.17 -4.17h8.33"/>
<path d="M315.5 383.33v8.33 m-4.17 -4.17h8.33"/>
<path d="M284.5 412.33v8.33 m-4.17 -4.17h8.33"/>
<path d="M286.5 425.33v8.33 m-4.17 -4.17h8.33"/>
<path d="M297.5 326.33v8.33 m-4.17 -4.17h8.33"/>
<path d="M302.5 337.33v8.33 m-4.17 -4.17h8.33"/>
<path d="M318.5 439.33v8.33 m-4.17 -4.17h8.33"/>
<path d="M293.5 338.33v8.33 m-4.17 -4.17h8.33"/>
<path d="M291.5 432.33v8.33 m-4.17 -4.17h8.33"/>
<path d="M296.5 433.33v8.33 m-4.17 -4.17h8.33"/>
<path d="M335.5 430.33v8.33 m-4.17 -4.17h8.33"/>
<path d="M323.5 416.33v8.33 m-4.17 -4.17h8.33"/>
<path d="M292.5 353.33v8.33 m-4.17 -4.17h8.33"/>
<path d="M297.5 360.33v8.33 m-4.17 -4.17h8.33"/>
<path d="M294.5 440.33v8.33 m-4.17 -4.17h8.33"/>
<path d="M313.5 420.33v8.33 m-4.17 -4.17h8.33"/>
<path d="M290.5 395.33v8.33 m-4.17 -4.17h8.33"/>
<path d="M318.5 425.33v8.33 m-4.17 -4.17h8.33"/>
<path d="M318.5 409.33v8.33 m-4.17 -4.17h8.33"/>
<path d="M320.5 394.33v8.33 m-4.17 -4.17h8.33"/>
<path d="M288.5 292.33v8.33 m-4.17 -4.17h8.33"/>
<path d="M331.5 443.33v8.33 m-4.17 -4.17h8.33"/>
<path d="M318.5 424.33v8.33 m-4.17 -4.17h8.33"/>
<path d="M305.5 379.33v8.33 m-4.17 -4.17h8.33"/>
<path d="M326.5 428.33v8.33 m-4.17 -4.17h8.33"/>
<path d="M325.5 432.33v8.33 m-4.17 -4.17h8.33"/>
<path d="M304.5 422.33v8.33 m-4.17 -4.17h8.33"/>
<path d="M304.5 402.33v8.33 m-4.17 -4.17h8.33"/>
<path d="M295.5 343.33v8.33 m-4.17 -4.17h8.33"/>
<path d="M291.5 433.33v8.33 m-4.17 -4.17h8.33"/>
<path d="M293.5 412.33v8.33 m-4.17 -4.17h8.33"/>
<path d="M284.5 370.33v8.33 m-4.17 -4.17h8.33"/>
<path d="M312.5 438.33v8.33 m-4.17 -4.17h8.33"/>
<path d="M317.5 375.33v8.33 m-4.17 -4.17h8.33"/>
<path d="M292.5 394.33v8.33 m-4.17 -4.17h8.33"/>
<path d="M322.5 437.33v8.33 m-4.17 -4.17h8.33"/>
<path d="M339.5 424.33v8.33 m-4.17 -4.17h8.33"/>
<path d="M295.5 408.33v8.33 m-4.17 -4.17h8.33"/>
<path d="M302.5 434.33v8.33 m-4.17 -4.17h8.33"/>
<path d="M299.5 442.33v8.33 m-4.17 -4.17h8.33"/>
<path d="M326.5 421.33v8.33 m-4.17 -4.17h8.33"/>
<path d="M309.5 407.33v8.33 m-4.17 -4.17h8.33"/>
<path d="M298.5 384.33v8.33 m-4.17 -4.17h8.33"/>
<path d="M285.5 384.33v8.33 m-4.17 -4.17h8.33"/>
<path d="M297.5 367.33v8.33 m-4.17 -4.17h8.33"/>
<path d="M309.5 370.33v8.33 m-4.17 -4.17h8.33"/>
<path d="M324.5 396.33v8.33 m-4.17 -4.17h8.33"/>
<path d="M285.5 409.33v8.33 m-4.17 -4.17h8.33"/>
<path d="M320.5 441.33v8.33 m-4.17 -4.17h8.33"/>
<path d="M320.5 372.33v8.33 m-4.17 -4.17h8.33"/>
<path d="M309.5 430.33v8.33 m-4.17 -4.17h8.33"/>
<path d="M336.5 409.33v8.33 m-4.17 -4.17h8.33"/>
<path d="M313.5 359.33v8.33 m-4.17 -4.17h8.33"/>
<path d="M316.5 441.33v8.33 m-4.17 -4.17h8.33"/>
<path d="M316.5 407.33v8.33 m-4.17 -4.17h8.33"/>
<path d="M286.5 409.33v8.33 m-4.17 -4.17h8.33"/>
<path d="M293.5 409.33v8.33 m-4.17 -4.17h8.33"/>
<path d="M308.5 406.33v8.33 m-4.17 -4.17h8.33"/>
<path d="M339.5 441.33v8.33 m-4.17 -4.17h8.33"/>
<path d="M302.5 440.33v8.33 m-4.17 -4.17h8.33"/>
<path d="M323.5 396.33v8.33 m-4.17 -4.17h8.33"/>
<path d="M334.5 437.33v8.33 m-4.17 -4.17h8.33"/>
<path d="M303.5 431.33v8.33 m-4.17 -4.17h8.33"/>
<path d="M335.5 436.33v8.33 m-4.17 -4.17h8.33"/>
<path d="M317.5 423.33v8.33 m-4.17 -4.17h8.33"/>
<path d="M297.5 417.33v8.33 m-4.17 -4.17h8.33"/>
<path d="M297.5 326.33v8.33 m-4.17 -4.17h8.33"/>
<path d="M305.5 415.33v8.33 m-4.17 -4.17h8.33"/>
<path d="M300.5 440.33v8.33 m-4.17 -4.17h8.33"/>
<path d="M326.5 442.33v8.33 m-4.17 -4.17h8.33"/>
<path d="M286.5 399.33v8.33 m-4.17 -4.17h8.33"/>
<path d="M295.5 387.33v8.33 m-4.17 -4.17h8.33"/>
<path d="M285.5 409.33v8.33 m-4.17 -4.17h8.33"/>
<path d="M293.5 418.33v8.33 m-4.17 -4.17h8.33"/>
<path d="M323.5 438.33v8.33 m-4.17 -4.17h8.33"/>
<path d="M298.5 436.33v8.33 m-4.17 -4.17h8.33"/>
<path d="M310.5 357.33v8.33 m-4.17 -4.17h8.33"/>
<path d="M334.5 438.33v8.33 m-4.17 -4.17h8.33"/>
<path d="M320.5 436.33v8.33 m-4.17 -4.17h8.33"/>
<path d="M296.5 422.33v8.33 m-4.17 -4.17h8.33"/>
<path d="M329.5 443.33v8.33 m-4.17 -4.17h8.33"/>
<path d="M311.5 429.33v8.33 m-4.17 -4.17h8.33"/>
<path d="M325.5 391.33v8.33 m-4.17 -4.17h8.33"/>
<path d="M310.5 394.33v8.33 m-4.17 -4.17h8.33"/>
<path d="M302.5 396.33v8.33 m-4.17 -4.17h8.33"/>
<path d="M302.5 433.33v8.33 m-4.17 -4.17h8.33"/>
<path d="M303.5 380.33v8.33 m-4.17 -4.17h8.33"/>
<path d="M289.5 379.33v8.33 m-4.17 -4.17h8.33"/>
<path d="M296.5 302.33v8.33 m-4.17 -4.17h8.33"/>
<path d="M296.5 345.33v8.33 m-4.17 -4.17h8.33"/>
<path d="M338.5 419.33v8.33 m-4.17 -4.17h8.33"/>
<path d="M305.5 432.33v8.33 m-4.17 -4.17h8.33"/>
<path d="M304.5 343.33v8.33 m-4.17 -4.17h8.33"/>
<path d="M320.5 377.33v8.33 m-4.17 -4.17h8.33"/>
<path d="M287.5 368.33v8.33 m-4.17 -4.17h8.33"/>
<path d="M335.5 443.33v8.33 m-4.17 -4.17h8.33"/>
<path d="M324.5 421.33v8.33 m-4.17 -4.17h8.33"/>
<path d="M300.5 425.33v8.33 m-4.17 -4.17h8.33"/>
<path d="M306.5 374.33v8.33 m-4.17 -4.17h8.33"/>
<path d="M304.5 435.33v8.33 m-4.17 -4.17h8.33"/>
<path d="M303.5 351.33v8.33 m-4.17 -4.17h8.33"/>
<path d="M300.5 412.33v8.33 m-4.17 -4.17h8.33"/>
<path d="M330.5 413.33v8.33 m-4.17 -4.17h8.33"/>
<path d="M325.5 419.33v8.33 m-4.17 -4.17h8.33"/>
<path d="M322.5 396.33v8.33 m-4.17 -4.17h8.33"/>
<path d="M297.5 395.33v8.33 m-4.17 -4.17h8.33"/>
<path d="M310.5 389.33v8.33 m-4.17 -4.17h8.33"/>
<path d="M285.5 407.33v8.33 m-4.17 -4.17h8.33"/>
<path d="M298.5 430.33v8.33 m-4.17 -4.17h8.33"/>
<path d="M337.5 423.33v8.33 m-4.17 -4.17h8.33"/>
<path d="M291.5 370.33v8.33 m-4.17 -4.17h8.33"/>
<path d="M314.5 429.33v8.33 m-4.17 -4.17h8.33"/>
<path d="M326.5 434.33v8.33 m-4.17 -4.17h8.33"/>
<path d="M316.5 422.33v8.33 m-4.17 -4.17h8.33"/>
<path d="M292.5 343.33v8.33 m-4.17 -4.17h8.33"/>
<path d="M292.5 428.33v8.33 m-4.17 -4.17h8.33"/>
<path d="M298.5 397.33v8.33 m-4.17 -4.17h8.33"/>
<path d="M324.5 402.33v8.33 m-4.17 -4.17h8.33"/>
<path d="M312.5 408.33v8.33 m-4.17 -4.17h8.33"/>
<path d="M306.5 440.33v8.33 m-4.17 -4.17h8.33"/>
<path d="M286.5 374.33v8.33 m-4.17 -4.17h8.33"/>
<path d="M320.5 401.33v8.33 m-4.17 -4.17h8.33"/>
<path d="M308.5 387.33v8.33 m-4.17 -4.17h8.33"/>
<path d="M319.5 412.33v8.33 m-4.17 -4.17h8.33"/>
<path d="M303.5 421.33v8.33 m-4.17 -4.17h8.33"/>
<path d="M297.5 422.33v8.33 m-4.17 -4.17h8.33"/>
<path d="M286.5 367.33v8.33 m-4.17 -4.17h8.33"/>
<path d="M300.5 347.33v8.33 m-4.17 -4.17h8.33"/>
<path d="M330.5 441.33v8.33 m-4.17 -4.17h8.33"/>
<path d="M291.5 433.33v8.33 m-4.17 -4.17h8.33"/>
<path d="M284.5 440.33v8.33 m-4.17 -4.17h8.33"/>
<path d="M324.5 441.33v8.33 m-4.17 -4.17h8.33"/>
<path d="M316.5 426.33v8.33 m-4.17 -4.17h8.33"/>
<path d="M313.5 434.33v8.33 m-4.17 -4.17h8.33"/>
<path d="M316.5 441.33v8.33 m-4.17 -4.17h8.33"/>
<path d="M296.5 413.33v8.33 m-4.17 -4.17h8.33"/>
<path d="M301.5 375.33v8.33 m-4.17 -4.17h8.33"/>
<path d="M314.5 392.33v8.33 m-4.17 -4.17h8.33"/>
<path d="M294.5 430.33v8.33 m-4.17 -4.17h8.33"/>
<path d="M292.5 434.33v8.33 m-4.17 -4.17h8.33"/>
<path d="M324.5 386.33v8.33 m-4.17 -4.17h8.33"/>
<path d="M327.5 443.33v8.33 m-4.17 -4.17h8.33"/>
<path d="M316.5 401.33v8.33 m-4.17 -4.17h8.33"/>
<path d="M289.5 417.33v8.33 m-4.17 -4.17h8.33"/>
<path d="M284.5 431.33v8.33 m-4.17 -4.17h8.33"/>
<path d="M287.5 278.33v8.33 m-4.17 -4.17h8.33"/>
<path d="M346.5 437.33v8.33 m-4.17 -4.17h8.33"/>
<path d="M317.5 379.33v8.33 m-4.17 -4.17h8.33"/>
<path d="M324.5 402.33v8.33 m-4.17 -4.17h8.33"/>
<path d="M302.5 423.33v8.33 m-4.17 -4.17h8.33"/>
<path d="M305.5 418.33v8.33 m-4.17 -4.17h8.33"/>
<path d="M302.5 441.33v8.33 m-4.17 -4.17h8.33"/>
<path d="M322.5 432.33v8.33 m-4.17 -4.17h8.33"/>
<path d="M305.5 343.33v8.33 m-4.17 -4.17h8.33"/>
<path d="M292.5 433.33v8.33 m-4.17 -4.17h8.33"/>
<path d="M301.5 387.33v8.33 m-4.17 -4.17h8.33"/>
<path d="M302.5 332.33v8.33 m-4.17 -4.17h8.33"/>
<path d="M310.5 443.33v8.33 m-4.17 -4.17h8.33"/>
<path d="M326.5 439.33v8.33 m-4.17 -4.17h8.33"/>
<path d="M292.5 376.33v8.33 m-4.17 -4.17h8.33"/>
<path d="M299.5 418.33v8.33 m-4.17 -4.17h8.33"/>
<path d="M294.5 439.33v8.33 m-4.17 -4.17h8.33"/>
<path d="M289.5 364.33v8.33 m-4.17 -4.17h8.33"/>
<path d="M308.5 437.33v8.33 m-4.17 -4.17h8.33"/>
<path d="M303.5 413.33v8.33 m-4.17 -4.17h8.33"/>
<path d="M298.5 339.33v8.33 m-4.17 -4.17h8.33"/>
<path d="M307.5 420.33v8.33 m-4.17 -4.17h8.33"/>
<path d="M338.5 419.33v8.33 m-4.17 -4.17h8.33"/>
<path d="M289.5 443.33v8.33 m-4.17 -4.17h8.33"/>
<path d="M288.5 351.33v8.33 m-4.17 -4.17h8.33"/>
<path d="M331.5 424.33v8.33 m-4.17 -4.17h8.33"/>
<path d="M311.5 399.33v8.33 m-4.17 -4.17h8.33"/>
<path d="M299.5 394.33v8.33 m-4.17 -4.17h8.33"/>
<path d="M299.5 435.33v8.33 m-4.17 -4.17h8.33"/>
<path d="M318.5 385.33v8.33 m-4.17 -4.17h8.33"/>
<path d="M293.5 434.33v8.33 m-4.17 -4.17h8.33"/>
<path d="M318.5 399.33v8.33 m-4.17 -4.17h8.33"/>
<path d="M284.5 441.33v8.33 m-4.17 -4.17h8.33"/>
<path d="M301.5 395.33v8.33 m-4.17 -4.17h8.33"/>
<path d="M320.5 394.33v8.33 m-4.17 -4.17h8.33"/>
<path d="M314.5 426.33v8.33 m-4.17 -4.17h8.33"/>
<path d="M289.5 398.33v8.33 m-4.17 -4.17h8.33"/>
<path d="M287.5 408.33v8.33 m-4.17 -4.17h8.33"/>
<path d="M327.5 425.33v8.33 m-4.17 -4.17h8.33"/>
<path d="M303.5 377.33v8.33 m-4.17 -4.17h8.33"/>
<path d="M304.5 423.33v8.33 m-4.17 -4.17h8.33"/>
<path d="M325.5 441.33v8.33 m-4.17 -4.17h8.33"/>
<path d="M300.5 418.33v8.33 m-4.17 -4.17h8.33"/>
<path d="M330.5 419.33v8.33 m-4.17 -4.17h8.33"/>
<path d="M320.5 386.33v8.33 m-4.17 -4.17h8.33"/>
<path d="M321.5 412.33v8.33 m-4.17 -4.17h8.33"/>
<path d="M305.5 335.33v8.33 m-4.17 -4.17h8.33"/>
<path d="M299.5 427.33v8.33 m-4.17 -4.17h8.33"/>
<path d="M342.5 416.33v8.33 m-4.17 -4.17h8.33"/>
<path d="M304.5 387.33v8.33 m-4.17 -4.17h8.33"/>
<path d="M297.5 399.33v8.33 m-4.17 -4.17h8.33"/>
<path d="M287.5 346.33v8.33 m-4.17 -4.17h8.33"/>
<path d="M309.5 385.33v8.33 m-4.17 -4.17h8.33"/>
<path d="M327.5 443.33v8.33 m-4.17 -4.17h8.33"/>
<path d="M303.5 434.33v8.33 m-4.17 -4.17h8.33"/>
<path d="M299.5 426.33v8.33 m-4.17 -4.17h8.33"/>
<path d="M332.5 418.33v8.33 m-4.17 -4.17h8.33"/>
<path d="M290.5 438.33v8.33 m-4.17 -4.17h8.33"/>
<path d="M294.5 441.33v8.33 m-4.17 -4.17h8.33"/>
<path d="M339.5 421.33v8.33 m-4.17 -4.17h8.33"/>
<path d="M289.5 421.33v8.33 m-4.17 -4.17h8.33"/>
<path d="M294.5 438.33v8.33 m-4.17 -4.17h8.33"/>
<path d="M285.5 347.33v8.33 m-4.17 -4.17h8.33"/>
<path d="M297.5 394.33v8.33 m-4.17 -4.17h8.33"/>
<path d="M286.5 396.33v8.33 m-4.17 -4.17h8.33"/>
<path d="M296.5 397.33v8.33 m-4.17 -4.17h8.33"/>
<path d="M299.5 435.33v8.33 m-4.17 -4.17h8.33"/>
<path d="M292.5 347.33v8.33 m-4.17 -4.17h8.33"/>
<path d="M294.5 382.33v8.33 m-4.17 -4.17h8.33"/>
<path d="M293.5 442.33v8.33 m-4.17 -4.17h8.33"/>
<path d="M303.5 407.33v8.33 m-4.17 -4.17h8.33"/>
<path d="M287.5 416.33v8.33 m-4.17 -4.17h8.33"/>
<path d="M288.5 301.33v8.33 m-4.17 -4.17h8.33"/>
<path d="M325.5 405.33v8.33 m-4.17 -4.17h8.33"/>
<path d="M326.5 443.33v8.33 m-4.17 -4.17h8.33"/>
<path d="M344.5 443.33v8.33 m-4.17 -4.17h8.33"/>
<path d="M339.5 431.33v8.33 m-4.17 -4.17h8.33"/>
<path d="M301.5 412.33v8.33 m-4.17 -4.17h8.33"/>
<path d="M286.5 441.33v8.33 m-4.17 -4.17h8.33"/>
<path d="M295.5 378.33v8.33 m-4.17 -4.17h8.33"/>
<path d="M291.5 390.33v8.33 m-4.17 -4.17h8.33"/>
<path d="M324.5 392.33v8.33 m-4.17 -4.17h8.33"/>
<path d="M321.5 398.33v8.33 m-4.17 -4.17h8.33"/>
<path d="M332.5 439.33v8.33 m-4.17 -4.17h8.33"/>
<path d="M293.5 412.33v8.33 m-4.17 -4.17h8.33"/>
<path d="M287.5 346.33v8.33 m-4.17 -4.17h8.33"/>
<path d="M288.5 436.33v8.33 m-4.17 -4.17h8.33"/>
<path d="M315.5 441.33v8.33 m-4.17 -4.17h8.33"/>
<path d="M319.5 438.33v8.33 m-4.17 -4.17h8.33"/>
<path d="M287.5 412.33v8.33 m-4.17 -4.17h8.33"/>
<path d="M293.5 397.33v8.33 m-4.17 -4.17h8.33"/>
<path d="M294.5 382.33v8.33 m-4.17 -4.17h8.33"/>
<path d="M341.5 418.33v8.33 m-4.17 -4.17h8.33"/>
<path d="M286.5 343.33v8.33 m-4.17 -4.17h8.33"/>
<path d="M331.5 441.33v8.33 m-4.17 -4.17h8.33"/>
<path d="M312.5 422.33v8.33 m-4.17 -4.17h8.33"/>
<path d="M315.5 382.33v8.33 m-4.17 -4.17h8.33"/>
<path d="M314.5 383.33v8.33 m-4.17 -4.17h8.33"/>
<path d="M284.5 294.33v8.33 m-4.17 -4.17h8.33"/>
<path d="M292.5 417.33v8.33 m-4.17 -4.17h8.33"/>
<path d="M316.5 438.33v8.33 m-4.17 -4.17h8.33"/>
<path d="M298.5 426.33v8.33 m-4.17 -4.17h8.33"/>
<path d="M298.5 437.33v8.33 m-4.17 -4.17h8.33"/>
<path d="M319.5 421.33v8.33 m-4.17 -4.17h8.33"/>
<path d="M293.5 347.33v8.33 m-4.17 -4.17h8.33"/>
<path d="M288.5 424.33v8.33 m-4.17 -4.17h8.33"/>
<path d="M287.5 384.33v8.33 m-4.17 -4.17h8.33"/>
<path d="M321.5 389.33v8.33 m-4.17 -4.17h8.33"/>
<path d="M296.5 423.33v8.33 m-4.17 -4.17h8.33"/>
<path d="M285.5 355.33v8.33 m-4.17 -4.17h8.33"/>
<path d="M285.5 399.33v8.33 m-4.17 -4.17h8.33"/>
<path d="M334.5 426.33v8.33 m-4.17 -4.17h8.33"/>
<path d="M296.5 439.33v8.33 m-4.17 -4.17h8.33"/>
<path d="M320.5 428.33v8.33 m-4.17 -4.17h8.33"/>
<path d="M293.5 388.33v8.33 m-4.17 -4.17h8.33"/>
<path d="M321.5 406.33v8.33 m-4.17 -4.17h8.33"/>
<path d="M321.5 425.33v8.33 m-4.17 -4.17h8.33"/>
<path d="M340.5 420.33v8.33 m-4.17 -4.17h8.33"/>
<path d="M285.5 371.33v8.33 m-4.17 -4.17h8.33"/>
<path d="M313.5 420.33v8.33 m-4.17 -4.17h8.33"/>
<path d="M291.5 388.33v8.33 m-4.17 -4.17h8.33"/>
<path d="M332.5 437.33v8.33 m-4.17 -4.17h8.33"/>
<path d="M330.5 410.33v8.33 m-4.17 -4.17h8.33"/>
<path d="M289.5 434.33v8.33 m-4.17 -4.17h8.33"/>
<path d="M306.5 375.33v8.33 m-4.17 -4.17h8.33"/>
<path d="M319.5 421.33v8.33 m-4.17 -4.17h8.33"/>
<path d="M292.5 386.33v8.33 m-4.17 -4.17h8.33"/>
<path d="M301.5 405.33v8.33 m-4.17 -4.17h8.33"/>
<path d="M288.5 391.33v8.33 m-4.17 -4.17h8.33"/>
<path d="M326.5 437.33v8.33 m-4.17 -4.17h8.33"/>
<path d="M334.5 421.33v8.33 m-4.17 -4.17h8.33"/>
<path d="M294.5 440.33v8.33 m-4.17 -4.17h8.33"/>
<path d="M307.5 416.33v8.33 m-4.17 -4.17h8.33"/>
<path d="M311.5 417.33v8.33 m-4.17 -4.17h8.33"/>
<path d="M329.5 440.33v8.33 m-4.17 -4.17h8.33"/>
<path d="M307.5 420.33v8.33 m-4.17 -4.17h8.33"/>
<path d="M296.5 360.33v8.33 m-4.17 -4.17h8.33"/>
<path d="M324.5 410.33v8.33 m-4.17 -4.17h8.33"/>
<path d="M310.5 378.33v8.33 m-4.17 -4.17h8.33"/>
<path d="M326.5 410.33v8.33 m-4.17 -4.17h8.33"/>
<path d="M285.5 376.33v8.33 m-4.17 -4.17h8.33"/>
<path d="M306.5 425.33v8.33 m-4.17 -4.17h8.33"/>
<path d="M310.5 427.33v8.33 m-4.17 -4.17h8.33"/>
<path d="M309.5 425.33v8.33 m-4.17 -4.17h8.33"/>
<path d="M322.5 390.33v8.33 m-4.17 -4.17h8.33"/>
<path d="M316.5 420.33v8.33 m-4.17 -4.17h8.33"/>
<path d="M299.5 385.33v8.33 m-4.17 -4.17h8.33"/>
<path d="M324.5 438.33v8.33 m-4.17 -4.17h8.33"/>
<path d="M333.5 432.33v8.33 m-4.17 -4.17h8.33"/>
<path d="M284.5 396.33v8.33 m-4.17 -4.17h8.33"/>
<path d="M321.5 418.33v8.33 m-4.17 -4.17h8.33"/>
<path d="M329.5 423.33v8.33 m-4.17 -4.17h8.33"/>
<path d="M296.5 376.33v8.33 m-4.17 -4.17h8.33"/>
<path d="M311.5 421.33v8.33 m-4.17 -4.17h8.33"/>
<path d="M317.5 378.33v8.33 m-4.17 -4.17h8.33"/>
<path d="M329.5 431.33v8.33 m-4.17 -4.17h8.33"/>
<path d="M290.5 440.33v8.33 m-4.17 -4.17h8.33"/>
<path d="M328.5 406.33v8.33 m-4.17 -4.17h8.33"/>
<path d="M292.5 439.33v8.33 m-4.17 -4.17h8.33"/>
<path d="M313.5 388.33v8.33 m-4.17 -4.17h8.33"/>
<path d="M287.5 430.33v8.33 m-4.17 -4.17h8.33"/>
<path d="M302.5 420.33v8.33 m-4.17 -4.17h8.33"/>
<path d="M296.5 360.33v8.33 m-4.17 -4.17h8.33"/>
<path d="M308.5 385.33v8.33 m-4.17 -4.17h8.33"/>
<path d="M329.5 411.33v8.33 m-4.17 -4.17h8.33"/>
<path d="M294.5 442.33v8.33 m-4.17 -4.17h8.33"/>
<path d="M300.5 442.33v8.33 m-4.17 -4.17h8.33"/>
<path d="M307.5 426.33v8.33 m-4.17 -4.17h8.33"/>
<path d="M296.5 414.33v8.33 m-4.17 -4.17h8.33"/>
<path d="M293.5 362.33v8.33 m-4.17 -4.17h8.33"/>
<path d="M328.5 432.33v8.33 m-4.17 -4.17h8.33"/>
<path d="M324.5 410.33v8.33 m-4.17 -4.17h8.33"/>
<path d="M296.5 415.33v8.33 m-4.17 -4.17h8.33"/>
<path d="M295.5 406.33v8.33 m-4.17 -4.17h8.33"/>
<path d="M322.5 437.33v8.33 m-4.17 -4.17h8.33"/>
<path d="M288.5 428.33v8.33 m-4.17 -4.17h8.33"/>
<path d="M296.5 319.33v8.33 m-4.17 -4.17h8.33"/>
<path d="M306.5 397.33v8.33 m-4.17 -4.17h8.33"/>
<path d="M285.5 432.33v8.33 m-4.17 -4.17h8.33"/>
<path d="M344.5 438.33v8.33 m-4.17 -4.17h8.33"/>
<path d="M296.5 298.33v8.33 m-4.17 -4.17h8.33"/>
<path d="M299.5 406.33v8.33 m-4.17 -4.17h8.33"/>
<path d="M342.5 422.33v8.33 m-4.17 -4.17h8.33"/>
<path d="M289.5 430.33v8.33 m-4.17 -4.17h8.33"/>
<path d="M305.5 402.33v8.33 m-4.17 -4.17h8.33"/>
<path d="M291.5 425.33v8.33 m-4.17 -4.17h8.33"/>
<path d="M308.5 409.33v8.33 m-4.17 -4.17h8.33"/>
<path d="M300.5 384.33v8.33 m-4.17 -4.17h8.33"/>
<path d="M297.5 416.33v8.33 m-4.17 -4.17h8.33"/>
<path d="M306.5 418.33v8.33 m-4.17 -4.17h8.33"/>
<path d="M304.5 440.33v8.33 m-4.17 -4.17h8.33"/>
<path d="M319.5 420.33v8.33 m-4.17 -4.17h8.33"/>
<path d="M326.5 427.33v8.33 m-4.17 -4.17h8.33"/>
<path d="M336.5 441.33v8.33 m-4.17 -4.17h8.33"/>
<path d="M298.5 391.33v8.33 m-4.17 -4.17h8.33"/>
<path d="M327.5 398.33v8.33 m-4.17 -4.17h8.33"/>
<path d="M329.5 422.33v8.33 m-4.17 -4.17h8.33"/>
<path d="M289.5 397.33v8.33 m-4.17 -4.17h8.33"/>
<path d="M300.5 436.33v8.33 m-4.17 -4.17h8.33"/>
<path d="M294.5 415.33v8.33 m-4.17 -4.17h8.33"/>
<path d="M310.5 429.33v8.33 m-4.17 -4.17h8.33"/>
<path d="M305.5 395.33v8.33 m-4.17 -4.17h8.33"/>
<path d="M325.5 438.33v8.33 m-4.17 -4.17h8.33"/>
<path d="M318.5 424.33v8.33 m-4.17 -4.17h8.33"/>
<path d="M298.5 357.33v8.33 m-4.17 -4.17h8.33"/>
<path d="M295.5 427.33v8.33 m-4.17 -4.17h8.33"/>
<path d="M326.5 424.33v8.33 m-4.17 -4.17h8.33"/>
<path d="M303.5 414.33v8.33 m-4.17 -4.17h8.33"/>
<path d="M292.5 412.33v8.33 m-4.17 -4.17h8.33"/>
<path d="M296.5 413.33v8.33 m-4.17 -4.17h8.33"/>
<path d="M308.5 429.33v8.33 m-4.17 -4.17h8.33"/>
<path d="M317.5 428.33v8.33 m-4.17 -4.17h8.33"/>
<path d="M306.5 399.33v8.33 m-4.17 -4.17h8.33"/>
<path d="M330.5 441.33v8.33 m-4.17 -4.17h8.33"/>
<path d="M314.5 377.33v8.33 m-4.17 -4.17h8.33"/>
<path d="M303.5 415.33v8.33 m-4.17 -4.17h8.33"/>
<path d="M325.5 419.33v8.33 m-4.17 -4.17h8.33"/>
<path d="M306.5 336.33v8.33 m-4.17 -4.17h8.33"/>
<path d="M300.5 381.33v8.33 m-4.17 -4.17h8.33"/>
<path d="M285.5 431.33v8.33 m-4.17 -4.17h8.33"/>
<path d="M313.5 426.33v8.33 m-4.17 -4.17h8.33"/>
<path d="M292.5 429.33v8.33 m-4.17 -4.17h8.33"/>
<path d="M285.5 427.33v8.33 m-4.17 -4.17h8.33"/>
<path d="M294.5 414.33v8.33 m-4.17 -4.17h8.33"/>
<path d="M341.5 425.33v8.33 m-4.17 -4.17h8.33"/>
<path d="M293.5 374.33v8.33 m-4.17 -4.17h8.33"/>
<path d="M300.5 441.33v8.33 m-4.17 -4.17h8.33"/>
<path d="M308.5 366.33v8.33 m-4.17 -4.17h8.33"/>
<path d="M332.5 419.33v8.33 m-4.17 -4.17h8.33"/>
<path d="M302.5 420.33v8.33 m-4.17 -4.17h8.33"/>
<path d="M319.5 436.33v8.33 m-4.17 -4.17h8.33"/>
<path d="M299.5 434.33v8.33 m-4.17 -4.17h8.33"/>
<path d="M289.5 440.33v8.33 m-4.17 -4.17h8.33"/>
<path d="M313.5 427.33v8.33 m-4.17 -4.17h8.33"/>
<path d="M324.5 436.33v8.33 m-4.17 -4.17h8.33"/>
<path d="M291.5 432.33v8.33 m-4.17 -4.17h8.33"/>
<path d="M326.5 415.33v8.33 m-4.17 -4.17h8.33"/>
<path d="M309.5 394.33v8.33 m-4.17 -4.17h8.33"/>
<path d="M310.5 436.33v8.33 m-4.17 -4.17h8.33"/>
<path d="M326.5 416.33v8.33 m-4.17 -4.17h8.33"/>
<path d="M313.5 410.33v8.33 m-4.17 -4.17h8.33"/>
<path d="M294.5 419.33v8.33 m-4.17 -4.17h8.33"/>
<path d="M285.5 439.33v8.33 m-4.17 -4.17h8.33"/>
<path d="M317.5 395.33v8.33 m-4.17 -4.17h8.33"/>
<path d="M285.5 426.33v8.33 m-4.17 -4.17h8.33"/>
<path d="M288.5 436.33v8.33 m-4.17 -4.17h8.33"/>
<path d="M288.5 419.33v8.33 m-4.17 -4.17h8.33"/>
<path d="M288.5 360.33v8.33 m-4.17 -4.17h8.33"/>
<path d="M301.5 418.33v8.33 m-4.17 -4.17h8.33"/>
<path d="M294.5 369.33v8.33 m-4.17 -4.17h8.33"/>
<path d="M343.5 433.33v8.33 m-4.17 -4.17h8.33"/>
<path d="M288.5 386.33v8.33 m-4.17 -4.17h8.33"/>
<path d="M312.5 422.33v8.33 m-4.17 -4.17h8.33"/>
<path d="M335.5 434.33v8.33 m-4.17 -4.17h8.33"/>
<path d="M318.5 416.33v8.33 m-4.17 -4.17h8.33"/>
<path d="M338.5 443.33v8.33 m-4.17 -4.17h8.33"/>
<path d="M325.5 429.33v8.33 m-4.17 -4.17h8.33"/>
<path d="M297.5 315.33v8.33 m-4.17 -4.17h8.33"/>
<path d="M316.5 423.33v8.33 m-4.17 -4.17h8.33"/>
<path d="M342.5 419.33v8.33 m-4.17 -4.17h8.33"/>
<path d="M285.5 434.33v8.33 m-4.17 -4.17h8.33"/>
<path d="M322.5 433.33v8.33 m-4.17 -4.17h8.33"/>
<path d="M338.5 441.33v8.33 m-4.17 -4.17h8.33"/>
<path d="M292.5 388.33v8.33 m-4.17 -4.17h8.33"/>
<path d="M294.5 431.33v8.33 m-4.17 -4.17h8.33"/>
<path d="M311.5 418.33v8.33 m-4.17 -4.17h8.33"/>
<path d="M307.5 393.33v8.33 m-4.17 -4.17h8.33"/>
<path d="M303.5 331.33v8.33 m-4.17 -4.17h8.33"/>
<path d="M295.5 413.33v8.33 m-4.17 -4.17h8.33"/>
<path d="M289.5 416.33v8.33 m-4.17 -4.17h8.33"/>
<path d="M312.5 418.33v8.33 m-4.17 -4.17h8.33"/>
<path d="M299.5 440.33v8.33 m-4.17 -4.17h8.33"/>
<path d="M304.5 366.33v8.33 m-4.17 -4.17h8.33"/>
<path d="M289.5 389.33v8.33 m-4.17 -4.17h8.33"/>
<path d="M304.5 443.33v8.33 m-4.17 -4.17h8.33"/>
<path d="M320.5 438.33v8.33 m-4.17 -4.17h8.33"/>
<path d="M339.5 438.33v8.33 m-4.17 -4.17h8.33"/>
<path d="M304.5 414.33v8.33 m-4.17 -4.17h8.33"/>
<path d="M317.5 400.33v8.33 m-4.17 -4.17h8.33"/>
<path d="M293.5 383.33v8.33 m-4.17 -4.17h8.33"/>
<path d="M305.5 326.33v8.33 m-4.17 -4.17h8.33"/>
<path d="M295.5 340.33v8.33 m-4.17 -4.17h8.33"/>
<path d="M306.5 443.33v8.33 m-4.17 -4.17h8.33"/>
<path d="M326.5 437.33v8.33 m-4.17 -4.17h8.33"/>
<path d="M291.5 367.33v8.33 m-4.17 -4.17h8.33"/>
<path d="M307.5 421.33v8.33 m-4.17 -4.17h8.33"/>
<path d="M306.5 390.33v8.33 m-4.17 -4.17h8.33"/>
<path d="M327.5 430.33v8.33 m-4.17 -4.17h8.33"/>
<path d="M302.5 440.33v8.33 m-4.17 -4.17h8.33"/>
<path d="M294.5 421.33v8.33 m-4.17 -4.17h8.33"/>
<path d="M294.5 400.33v8.33 m-4.17 -4.17h8.33"/>
<path d="M289.5 403.33v8.33 m-4.17 -4.17h8.33"/>
<path d="M340.5 416.33v8.33 m-4.17 -4.17h8.33"/>
<path d="M191.5 393.33v8.33 m-4.17 -4.17h8.33"/>
<path d="M194.5 367.33v8.33 m-4.17 -4.17h8.33"/>
<path d="M191.5 351.33v8.33 m-4.17 -4.17h8.33"/>
<path d="M193.5 370.33v8.33 m-4.17 -4.17h8.33"/>
<path d="M191.5 346.33v8.33 m-4.17 -4.17h8.33"/>
<path d="M191.5 358.33v8.33 m-4.17 -4.17h8.33"/>
<path d="M196.5 380.33v8.33 m-4.17 -4.17h8.33"/>
<path d="M195.5 343.33v8.33 m-4.17 -4.17h8.33"/>
<path d="M197.5 378.33v8.33 m-4.17 -4.17h8.33"/>
<path d="M193.5 376.33v8.33 m-4.17 -4.17h8.33"/>
<path d="M193.5 371.33v8.33 m-4.17 -4.17h8.33"/>
<path d="M194.5 344.33v8.33 m-4.17 -4.17h8.33"/>
<path d="M194.5 342.33v8.33 m-4.17 -4.17h8.33"/>
<path d="M194.5 367.33v8.33 m-4.17 -4.17h8.33"/>
<path d="M190.5 370.33v8.33 m-4.17 -4.17h8.33"/>
<path d="M194.5 377.33v8.33 m-4.17 -4.17h8.33"/>
<path d="M191.5 367.33v8.33 m-4.17 -4.17h8.33"/>
<path d="M193.5 356.33v8.33 m-4.17 -4.17h8.33"/>
<path d="M200.5 424.33v8.33 m-4.17 -4.17h8.33"/>
<path d="M195.5 422.33v8.33 m-4.17 -4.17h8.33"/>
<path d="M195.5 413.33v8.33 m-4.17 -4.17h8.33"/>
<path d="M196.5 409.33v8.33 m-4.17 -4.17h8.33"/>
<path d="M195.5 424.33v8.33 m-4.17 -4.17h8.33"/>
<path d="M191.5 325.33v8.33 m-4.17 -4.17h8.33"/>
<path d="M193.5 322.33v8.33 m-4.17 -4.17h8.33"/>
<path d="M191.5 325.33v8.33 m-4.17 -4.17h8.33"/>
<path d="M193.5 357.33v8.33 m-4.17 -4.17h8.33"/>
<path d="M193.5 354.33v8.33 m-4.17 -4.17h8.33"/>
<path d="M194.5 356.33v8.33 m-4.17 -4.17h8.33"/>
<path d="M194.5 373.33v8.33 m-4.17 -4.17h8.33"/>
<path d="M194.5 375.33v8.33 m-4.17 -4.17h8.33"/>
<path d="M196.5 373.33v8.33 m-4.17 -4.17h8.33"/>
<path d="M194.5 373.33v8.33 m-4.17 -4.17h8.33"/>
<path d="M191.5 346.33v8.33 m-4.17 -4.17h8.33"/>
<path d="M191.5 345.33v8.33 m-4.17 -4.17h8.33"/>
<path d="M211.5 317.33v8.33 m-4.17 -4.17h8.33"/>
<path d="M211.5 317.33v8.33 m-4.17 -4.17h8.33"/>
<path d="M209.5 329.33v8.33 m-4.17 -4.17h8.33"/>
<path d="M208.5 330.33v8.33 m-4.17 -4.17h8.33"/>
</g>
<g fill="none" stroke="#0000FF" stroke-width="0.9">
<path d="M230.33 259.33l8.33 8.33 m-8.33 0l8.33 -8.33"/>
<path d="M225.33 272.33l8.33 8.33 m-8.33 0l8.33 -8.33"/>
<path d="M222.33 309.33l8.33 8.33 m-8.33 0l8.33 -8.33"/>
<path d="M234.33 318.33l8.33 8.33 m-8.33 0l8.33 -8.33"/>
<path d="M234.33 321.33l8.33 8.33 m-8.33 0l8.33 -8.33"/>
<path d="M236.33 325.33l8.33 8.33 m-8.33 0l8.33 -8.33"/>
<path d="M223.33 333.33l8.33 8.33 m-8.33 0l8.33 -8.33"/>
<path d="M225.33 350.33l8.33 8.33 m-8.33 0l8.33 -8.33"/>
<path d="M226.33 352.33l8.33 8.33 m-8.33 0l8.33 -8.33"/>
<path d="M220.33 356.33l8.33 8.33 m-8.33 0l8.33 -8.33"/>
<path d="M231.33 357.33l8.33 8.33 m-8.33 0l8.33 -8.33"/>
<path d="M238.33 359.33l8.33 8.33 m-8.33 0l8.33 -8.33"/>
<path d="M236.33 382.33l8.33 8.33 m-8.33 0l8.33 -8.33"/>
<path d="M236.33 393.33l8.33 8.33 m-8.33 0l8.33 -8.33"/>
<path d="M203.33 410.33l8.33 8.33 m-8.33 0l8.33 -8.33"/>
<path d="M223.33 405.33l8.33 8.33 m-8.33 0l8.33 -8.33"/>
<path d="M233.33 402.33l8.33 8.33 m-8.33 0l8.33 -8.33"/>
<path d="M236.33 408.33l8.33 8.33 m-8.33 0l8.33 -8.33"/>
<path d="M237.33 396.33l8.33 8.33 m-8.33 0l8.33 -8.33"/>
<path d="M241.33 434.33l8.33 8.33 m-8.33 0l8.33 -8.33"/>
<path d="M198.33 437.33l8.33 8.33 m-8.33 0l8.33 -8.33"/>
<path d="M203.33 437.33l8.33 8.33 m-8.33 0l8.33 -8.33"/>
<path d="M222.33 439.33l8.33 8.33 m-8.33 0l8.33 -8.33"/>
<path d="M218.33 440.33l8.33 8.33 m-8.33 0l8.33 -8.33"/>
<path d="M232.33 463.33l8.33 8.33 m-8.33 0l8.33 -8.33"/>
<path d="M232.33 463.33l8.33 8.33 m-8.33 0l8.33 -8.33"/>
</g>
<g fill="#BF00BF" stroke="#000" stroke-width="0.69">
<circle cx="207.92" cy="453.2" r="4.17"/>
<circle cx="225.49" cy="451.41" r="4.17"/>
<circle cx="226.53" cy="451.1" r="4.17"/>
<circle cx="236.7" cy="450.88" r="4.17"/>
<circle cx="208.95" cy="451.58" r="4.17"/>
<circle cx="219.07" cy="457" r="4.17"/>
<circle cx="236.65" cy="454.51" r="4.17"/>
<circle cx="203.73" cy="451.27" r="4.17"/>
<circle cx="226.97" cy="452.92" r="4.17"/>
<circle cx="232.08" cy="453.12" r="4.17"/>
<circle cx="228.73" cy="454.89" r="4.17"/>
<circle cx="224.87" cy="452.48" r="4.17"/>
<circle cx="210.96" cy="456.01" r="4.17"/>
<circle cx="219.19" cy="451.75" r="4.17"/>
<circle cx="231" cy="453.79" r="4.17"/>
<circle cx="240.71" cy="453.65" r="4.17"/>
<circle cx="215.46" cy="451.62" r="4.17"/>
<circle cx="241.41" cy="453.48" r="4.17"/>
<circle cx="238.69" cy="451.89" r="4.17"/>
<circle cx="206.92" cy="451.54" r="4.17"/>
<circle cx="242.84" cy="454.19" r="4.17"/>
<circle cx="210.95" cy="452.18" r="4.17"/>
<circle cx="220.85" cy="452.59" r="4.17"/>
<circle cx="224.58" cy="452.35" r="4.17"/>
<circle cx="224.54" cy="454.07" r="4.17"/>
<circle cx="241.09" cy="453.01" r="4.17"/>
<circle cx="237.61" cy="454.72" r="4.17"/>
<circle cx="204.33" cy="450.93" r="4.17"/>
<circle cx="237.81" cy="456.41" r="4.17"/>
<circle cx="223.82" cy="451.99" r="4.17"/>
<circle cx="230.76" cy="451.93" r="4.17"/>
<circle cx="224.03" cy="455.65" r="4.17"/>
<circle cx="210.18" cy="455.58" r="4.17"/>
<circle cx="244.01" cy="452.76" r="4.17"/>
<circle cx="200.75" cy="451.57" r="4.17"/>
<circle cx="203.74" cy="453.34" r="4.17"/>
<circle cx="210.61" cy="451.35" r="4.17"/>
<circle cx="198.62" cy="453.21" r="4.17"/>
<circle cx="226" cy="454.83" r="4.17"/>
<circle cx="212.39" cy="451.9" r="4.17"/>
<circle cx="238.78" cy="453.88" r="4.17"/>
<circle cx="244.43" cy="451.09" r="4.17"/>
<circle cx="211.36" cy="453.93" r="4.17"/>
<circle cx="198.01" cy="452.4" r="4.17"/>
<circle cx="205.97" cy="453.8" r="4.17"/>
<circle cx="204" cy="452.73" r="4.17"/>
<circle cx="198.54" cy="452.28" r="4.17"/>
<circle cx="242.52" cy="452.43" r="4.17"/>
<circle cx="239.54" cy="452.86" r="4.17"/>
<circle cx="221.46" cy="452.78" r="4.17"/>
<circle cx="227.41" cy="453.55" r="4.17"/>
<circle cx="226.27" cy="452.65" r="4.17"/>
<circle cx="241.65" cy="453.57" r="4.17"/>
<circle cx="231.07" cy="450.83" r="4.17"/>
<circle cx="207.91" cy="453.05" r="4.17"/>
<circle cx="221.51" cy="457" r="4.17"/>
<circle cx="222.82" cy="453.49" r="4.17"/>
<circle cx="224.34" cy="450.9" r="4.17"/>
<circle cx="197.46" cy="452.17" r="4.17"/>
<circle cx="199.38" cy="453.24" r="4.17"/>
<circle cx="226.61" cy="454.68" r="4.17"/>
<circle cx="213.42" cy="451.56" r="4.17"/>
<circle cx="230.43" cy="450.74" r="4.17"/>
<circle cx="199.41" cy="451.27" r="4.17"/>
<circle cx="228.95" cy="452.7" r="4.17"/>
<circle cx="218.4" cy="451.17" r="4.17"/>
<circle cx="224.95" cy="451.79" r="4.17"/>
<circle cx="211.51" cy="453.02" r="4.17"/>
<circle cx="214.22" cy="452.58" r="4.17"/>
<circle cx="214.6" cy="451.99" r="4.17"/>
<circle cx="233.57" cy="454.15" r="4.17"/>
<circle cx="231.79" cy="451.29" r="4.17"/>
<circle cx="211.38" cy="451.54" r="4.17"/>
<circle cx="207.96" cy="455.5" r="4.17"/>
<circle cx="205.49" cy="454.54" r="4.17"/>
<circle cx="201.39" cy="452.35" r="4.17"/>
<circle cx="211.95" cy="453.27" r="4.17"/>
<circle cx="217.54" cy="455.12" r="4.17"/>
<circle cx="237.57" cy="451.89" r="4.17"/>
<circle cx="227.71" cy="452.84" r="4.17"/>
<circle cx="238.98" cy="452.54" r="4.17"/>
<circle cx="202.3" cy="451.28" r="4.17"/>
<circle cx="221.92" cy="452.48" r="4.17"/>
<circle cx="236.75" cy="455.26" r="4.17"/>
<circle cx="205.31" cy="451.58" r="4.17"/>
<circle cx="227.31" cy="455.52" r="4.17"/>
<circle cx="235.2" cy="451.5" r="4.17"/>
<circle cx="210.51" cy="451.88" r="4.17"/>
<circle cx="234.61" cy="451.03" r="4.17"/>
<circle cx="216.51" cy="453.17" r="4.17"/>
<circle cx="216.65" cy="455.82" r="4.17"/>
<circle cx="203.99" cy="453.97" r="4.17"/>
<circle cx="196.72" cy="451.5" r="4.17"/>
<circle cx="243.87" cy="452.64" r="4.17"/>
<circle cx="217.35" cy="456.58" r="4.17"/>
<circle cx="207.16" cy="452.6" r="4.17"/>
<circle cx="232.29" cy="452.76" r="4.17"/>
<circle cx="221.41" cy="454.11" r="4.17"/>
<circle cx="210.37" cy="451.75" r="4.17"/>
<circle cx="199.77" cy="452.33" r="4.17"/>
<circle cx="224.76" cy="451.83" r="4.17"/>
<circle cx="198.66" cy="453.25" r="4.17"/>
<circle cx="239.87" cy="452.82" r="4.17"/>
<circle cx="239.54" cy="456.45" r="4.17"/>
<circle cx="239.68" cy="451.09" r="4.17"/>
<circle cx="232.27" cy="450.9" r="4.17"/>
<circle cx="204.75" cy="451.93" r="4.17"/>
<circle cx="221.7" cy="454.49" r="4.17"/>
<circle cx="216.36" cy="454.15" r="4.17"/>
<circle cx="212.88" cy="452.09" r="4.17"/>
<circle cx="208.62" cy="452.68" r="4.17"/>
<circle cx="234.05" cy="453.05" r="4.17"/>
<circle cx="213.39" cy="451.79" r="4.17"/>
<circle cx="235.71" cy="453.86" r="4.17"/>
<circle cx="204.72" cy="452.28" r="4.17"/>
<circle cx="235.19" cy="456.59" r="4.17"/>
<circle cx="236.03" cy="454.5" r="4.17"/>
<circle cx="237.9" cy="450.88" r="4.17"/>
<circle cx="198.9" cy="450.99" r="4.17"/>
<circle cx="221.81" cy="452.82" r="4.17"/>
<circle cx="216.8" cy="455.31" r="4.17"/>
<circle cx="196.59" cy="451.38" r="4.17"/>
<circle cx="199.13" cy="451.67" r="4.17"/>
<circle cx="199.78" cy="451.7" r="4.17"/>
<circle cx="243.29" cy="451.4" r="4.17"/>
<circle cx="220.6" cy="451.61" r="4.17"/>
<circle cx="211.66" cy="451.69" r="4.17"/>
<circle cx="227.55" cy="453.01" r="4.17"/>
<circle cx="224.66" cy="451.83" r="4.17"/>
<circle cx="212.28" cy="452.05" r="4.17"/>
<circle cx="202.44" cy="454.73" r="4.17"/>
<circle cx="214.75" cy="452.16" r="4.17"/>
<circle cx="200.34" cy="451.83" r="4.17"/>
<circle cx="225.51" cy="453.05" r="4.17"/>
<circle cx="234.07" cy="454.24" r="4.17"/>
<circle cx="226.4" cy="454.02" r="4.17"/>
<circle cx="217.22" cy="452.9" r="4.17"/>
<circle cx="230.24" cy="452.97" r="4.17"/>
<circle cx="216.68" cy="451.73" r="4.17"/>
<circle cx="208.26" cy="453.52" r="4.17"/>
<circle cx="222.22" cy="451.05" r="4.17"/>
<circle cx="216.89" cy="451.68" r="4.17"/>
<circle cx="216.94" cy="455.31" r="4.17"/>
<circle cx="214.46" cy="455.05" r="4.17"/>
<circle cx="239.6" cy="451.24" r="4.17"/>
<circle cx="218.78" cy="452.74" r="4.17"/>
<circle cx="202.41" cy="452.24" r="4.17"/>
<circle cx="239.09" cy="454.37" r="4.17"/>
<circle cx="234.54" cy="452.87" r="4.17"/>
<circle cx="223.56" cy="454.52" r="4.17"/>
<circle cx="201.45" cy="450.93" r="4.17"/>
<circle cx="203.39" cy="450.84" r="4.17"/>
<circle cx="233.67" cy="451.84" r="4.17"/>
<circle cx="201.27" cy="451.03" r="4.17"/>
<circle cx="238.76" cy="450.95" r="4.17"/>
<circle cx="236.89" cy="451.23" r="4.17"/>
<circle cx="202.32" cy="452.95" r="4.17"/>
<circle cx="236.64" cy="454.06" r="4.17"/>
<circle cx="242.22" cy="454.95" r="4.17"/>
<circle cx="198.24" cy="452.87" r="4.17"/>
<circle cx="233.34" cy="454.97" r="4.17"/>
<circle cx="201.62" cy="451" r="4.17"/>
<circle cx="232.45" cy="451.58" r="4.17"/>
<circle cx="212.06" cy="451.08" r="4.17"/>
<circle cx="223.57" cy="451.65" r="4.17"/>
<circle cx="205.13" cy="452.47" r="4.17"/>
<circle cx="208.5" cy="454.07" r="4.17"/>
<circle cx="215.4" cy="453.71" r="4.17"/>
<circle cx="214.14" cy="452.7" r="4.17"/>
<circle cx="216.57" cy="452.22" r="4.17"/>
<circle cx="200.5" cy="454.9" r="4.17"/>
<circle cx="216.32" cy="450.71" r="4.17"/>
<circle cx="232.38" cy="452.9" r="4.17"/>
<circle cx="232.79" cy="454.2" r="4.17"/>
<circle cx="228.85" cy="453.79" r="4.17"/>
<circle cx="227.36" cy="451.03" r="4.17"/>
<circle cx="239.58" cy="451.42" r="4.17"/>
<circle cx="232.41" cy="451.68" r="4.17"/>
<circle cx="240.5" cy="453.6" r="4.17"/>
<circle cx="231.01" cy="451.02" r="4.17"/>
<circle cx="205.43" cy="450.9" r="4.17"/>
<circle cx="224.61" cy="452.49" r="4.17"/>
<circle cx="211.61" cy="451.16" r="4.17"/>
<circle cx="242.26" cy="454.81" r="4.17"/>
<circle cx="210.7" cy="451.47" r="4.17"/>
<circle cx="237.47" cy="453.38" r="4.17"/>
<circle cx="224.56" cy="450.9" r="4.17"/>
<circle cx="197.61" cy="452.3" r="4.17"/>
<circle cx="219.52" cy="451.93" r="4.17"/>
<circle cx="213.8" cy="451.82" r="4.17"/>
<circle cx="211.96" cy="450.93" r="4.17"/>
<circle cx="244.08" cy="452.19" r="4.17"/>
<circle cx="219.52" cy="453.17" r="4.17"/>
<circle cx="236.56" cy="452.47" r="4.17"/>
<circle cx="235.94" cy="453.6" r="4.17"/>
<circle cx="231.09" cy="451.79" r="4.17"/>
<circle cx="237.62" cy="454.26" r="4.17"/>
<circle cx="242.59" cy="453.28" r="4.17"/>
<circle cx="218.93" cy="450.95" r="4.17"/>
<circle cx="230.95" cy="452.66" r="4.17"/>
<circle cx="244" cy="455.5" r="4.17"/>
<circle cx="240" cy="456.6" r="4.17"/>
<circle cx="213" cy="450.75" r="4.17"/>
<circle cx="245.4" cy="450.75" r="4.17"/>
<circle cx="194.6" cy="450.75" r="4.17"/>
</g>
<g fill="none" stroke-width="1.39">
<path d="M100.5 450.5H381.82" stroke="#0000FF" stroke-dasharray="8.333 8.333"/>
<path d="M100.5 452.5H381.82" stroke="#FF0000" stroke-dasharray="8.333 8.333"/>
<path d="M100.5 446.5H381.82" stroke="#0000FF" stroke-dasharray="4.167 6.944 1.389 6.944"/>
<path d="M100.5 458.5H381.82" stroke="#0000FF" stroke-dasharray="4.167 6.944 1.389 6.944"/>
</g>
</g>
<rect x="100.5" y="60.5" width="282" height="480" fill="none" stroke="#000" stroke-width="1.39"/>
<g stroke="#000" stroke-width="0.69" fill="none">
<path d="M100.5 540.5v-6.2"/>
<path d="M138.5 540.5v-6.2"/>
<path d="M175.5 540.5v-6.2"/>
<path d="M213.5 540.5v-6.2"/>
<path d="M250.5 540.5v-6.2"/>
<path d="M288.5 540.5v-6.2"/>
<path d="M325.5 540.5v-6.2"/>
<path d="M363.5 540.5v-6.2"/>
<path d="M115.5 60.5v6.2"/>
<path d="M153.5 60.5v6.2"/>
<path d="M190.5 60.5v6.2"/>
<path d="M228.5 60.5v6.2"/>
<path d="M265.5 60.5v6.2"/>
<path d="M303.5 60.5v6.2"/>
<path d="M340.5 60.5v6.2"/>
<path d="M378.5 60.5v6.2"/>
<path d="M100.5 540.5h6.2"/>
<path d="M382.5 540.5h-6.2"/>
<path d="M100.5 420.5h6.2"/>
<path d="M382.5 420.5h-6.2"/>
<path d="M100.5 300.5h6.2"/>
<path d="M382.5 300.5h-6.2"/>
<path d="M100.5 180.5h6.2"/>
<path d="M382.5 180.5h-6.2"/>
<path d="M100.5 60.5h6.2"/>
<path d="M382.5 60.5h-6.2"/>
</g>
<g font-size="16.67" text-anchor="end">
<text transform="translate(94.9 545) scale(0.945 1.075)" font-size="16.67" text-anchor="end">0</text>
<text transform="translate(94.9 425) scale(0.945 1.075)" font-size="16.67" text-anchor="end">5</text>
<text transform="translate(94.9 305) scale(0.945 1.075)" font-size="16.67" text-anchor="end">10</text>
<text transform="translate(94.9 185) scale(0.945 1.075)" font-size="16.67" text-anchor="end">15</text>
<text transform="translate(94.9 65) scale(0.945 1.075)" font-size="16.67" text-anchor="end">20</text>
</g>
<rect x="27.5" y="70.5" width="345" height="180" fill="#fff" stroke="#000" stroke-width="1.39"/>
<g fill="none" stroke-width="0.69">
<path stroke="#00BFBF" stroke-width="0.8" d="M41.5 82.33v8.33 m-4.17 -4.17h8.33"/>
<path stroke="#0000FF" stroke-width="0.9" d="M37.33 111.33l8.33 8.33 m-8.33 0l8.33 -8.33"/>
<circle cx="41.5" cy="144.5" r="4.17" fill="#BF00BF" stroke="#000"/>
<path stroke="#00BFBF" stroke-width="0.8" d="M69.5 82.33v8.33 m-4.17 -4.17h8.33"/>
<path stroke="#0000FF" stroke-width="0.9" d="M65.33 111.33l8.33 8.33 m-8.33 0l8.33 -8.33"/>
<circle cx="69.5" cy="144.5" r="4.17" fill="#BF00BF" stroke="#000"/>
</g>
<g fill="none" stroke-width="1.39">
<path d="M41.5 173.5H69.5" stroke="#0000FF" stroke-dasharray="8.333 8.333"/>
<path d="M41.5 202.5H69.5" stroke="#FF0000" stroke-dasharray="8.333 8.333"/>
<path d="M41.5 231.5H69.5" stroke="#0000FF" stroke-dasharray="4.167 6.944 1.389 6.944"/>
</g>
<g font-size="20">
<text x="91" y="92.9">all sample</text>
<text x="91" y="121.85">sample for rough FWHM</text>
<text x="91" y="150.8">best-effort PSF-like sample</text>
<text x="91" y="179.75">resultant FWHM: 3.75</text>
<text x="91" y="208.7">median FHWM of sequence</text>
<text x="91" y="237.65">sigma range</text>
</g>
<text x="227.1" y="29" font-size="20" text-anchor="middle">FWHM vs magnitudes</text>
<g font-size="16.67" text-anchor="middle">
<text transform="translate(114.73 50) scale(0.96 1.075)" font-size="16.67" text-anchor="middle">14</text>
<text transform="translate(152.31 50) scale(0.96 1.075)" font-size="16.67" text-anchor="middle">16</text>
<text transform="translate(189.88 50) scale(0.96 1.075)" font-size="16.67" text-anchor="middle">18</text>
<text transform="translate(227.46 50) scale(0.96 1.075)" font-size="16.67" text-anchor="middle">20</text>
<text transform="translate(265.03 50) scale(0.96 1.075)" font-size="16.67" text-anchor="middle">22</text>
<text transform="translate(302.61 50) scale(0.96 1.075)" font-size="16.67" text-anchor="middle">24</text>
<text transform="translate(340.19 50) scale(0.96 1.075)" font-size="16.67" text-anchor="middle">26</text>
<text transform="translate(377.76 50) scale(0.96 1.075)" font-size="16.67" text-anchor="middle">28</text>
<text transform="translate(100.3 560) scale(0.95 1.075)" font-size="16.67" text-anchor="middle">−20</text>
<text transform="translate(137.88 560) scale(0.95 1.075)" font-size="16.67" text-anchor="middle">−18</text>
<text transform="translate(175.45 560) scale(0.95 1.075)" font-size="16.67" text-anchor="middle">−16</text>
<text transform="translate(213.03 560) scale(0.95 1.075)" font-size="16.67" text-anchor="middle">−14</text>
<text transform="translate(250.6 560) scale(0.95 1.075)" font-size="16.67" text-anchor="middle">−12</text>
<text transform="translate(288.18 560) scale(0.95 1.075)" font-size="16.67" text-anchor="middle">−10</text>
<text transform="translate(325.76 560) scale(0.95 1.075)" font-size="16.67" text-anchor="middle">−8</text>
<text transform="translate(363.33 560) scale(0.95 1.075)" font-size="16.67" text-anchor="middle">−6</text>
<text transform="translate(242 583) scale(1 1.075)" font-size="16.67" text-anchor="middle">magnitude (bottom:isnt / top:calib)</text>
</g>
<text transform="translate(64 300) rotate(-90) scale(1 1.075)" font-size="16.67" text-anchor="middle">FWHM (pix)</text>
<g fill="#0000FF" stroke="#000" stroke-width="1.39">
<rect x="438.18" y="90.25" width="1.95" height="57.03" stroke-width="0.9"/>
<rect x="438.18" y="147.28" width="8.81" height="57.03"/>
<rect x="438.18" y="204.31" width="210.48" height="57.03"/>
<rect x="438.18" y="261.34" width="152.36" height="57.03"/>
<rect x="438.18" y="375.4" width="1.95" height="57.03" stroke-width="0.9"/>
</g>
<path d="M438.48 234.5H690.6" stroke="#000" stroke-width="1.39" stroke-dasharray="8.333 8.333" fill="none"/>
<rect x="438.5" y="60.5" width="282" height="480" fill="none" stroke="#000" stroke-width="1.39"/>
<g stroke="#000" stroke-width="0.69" fill="none">
<path d="M438.5 540.5v-6.2"/>
<path d="M438.5 60.5v6.2"/>
<path d="M473.5 540.5v-6.2"/>
<path d="M473.5 60.5v6.2"/>
<path d="M509.5 540.5v-6.2"/>
<path d="M509.5 60.5v6.2"/>
<path d="M544.5 540.5v-6.2"/>
<path d="M544.5 60.5v6.2"/>
<path d="M579.5 540.5v-6.2"/>
<path d="M579.5 60.5v6.2"/>
<path d="M614.5 540.5v-6.2"/>
<path d="M614.5 60.5v6.2"/>
<path d="M650.5 540.5v-6.2"/>
<path d="M650.5 60.5v6.2"/>
<path d="M685.5 540.5v-6.2"/>
<path d="M685.5 60.5v6.2"/>
<path d="M720.5 540.5v-6.2"/>
<path d="M720.5 60.5v6.2"/>
<path d="M438.5 433.5h6.2"/>
<path d="M720.5 433.5h-6.2"/>
<path d="M438.5 300.5h6.2"/>
<path d="M720.5 300.5h-6.2"/>
<path d="M438.5 167.5h6.2"/>
<path d="M720.5 167.5h-6.2"/>
</g>
<text x="579.9" y="53" font-size="20" text-anchor="middle">histogram of FWHM</text>
<g font-size="16.67" text-anchor="middle">
<text transform="translate(438.48 560) scale(0.975 1.075)" font-size="16.67" text-anchor="middle">0</text>
<text transform="translate(473.71 560) scale(0.975 1.075)" font-size="16.67" text-anchor="middle">20</text>
<text transform="translate(508.94 560) scale(0.975 1.075)" font-size="16.67" text-anchor="middle">40</text>
<text transform="translate(544.16 560) scale(0.975 1.075)" font-size="16.67" text-anchor="middle">60</text>
<text transform="translate(579.39 560) scale(0.975 1.075)" font-size="16.67" text-anchor="middle">80</text>
<text transform="translate(614.62 560) scale(0.975 1.075)" font-size="16.67" text-anchor="middle">100</text>
<text transform="translate(649.85 560) scale(0.975 1.075)" font-size="16.67" text-anchor="middle">120</text>
<text transform="translate(685.07 560) scale(0.975 1.075)" font-size="16.67" text-anchor="middle">140</text>
<text transform="translate(720.3 560) scale(0.975 1.075)" font-size="16.67" text-anchor="middle">160</text>
<text transform="translate(579.1 583) scale(1 1.075)" font-size="16.67" text-anchor="middle">number of sources</text>
</g>
<g font-size="16.67" text-anchor="end">
<text transform="translate(433.6 438.53) scale(0.96 1.075)" font-size="16.67" text-anchor="end">3.0</text>
<text transform="translate(433.6 305.2) scale(0.96 1.075)" font-size="16.67" text-anchor="end">3.5</text>
<text transform="translate(433.6 171.87) scale(0.96 1.075)" font-size="16.67" text-anchor="end">4.0</text>
</g>
<text transform="translate(396.5 300) rotate(-90) scale(1 1.075)" font-size="16.67" text-anchor="middle">FWHM of best-effort PSF-like sources</text>
</svg></body></html>
